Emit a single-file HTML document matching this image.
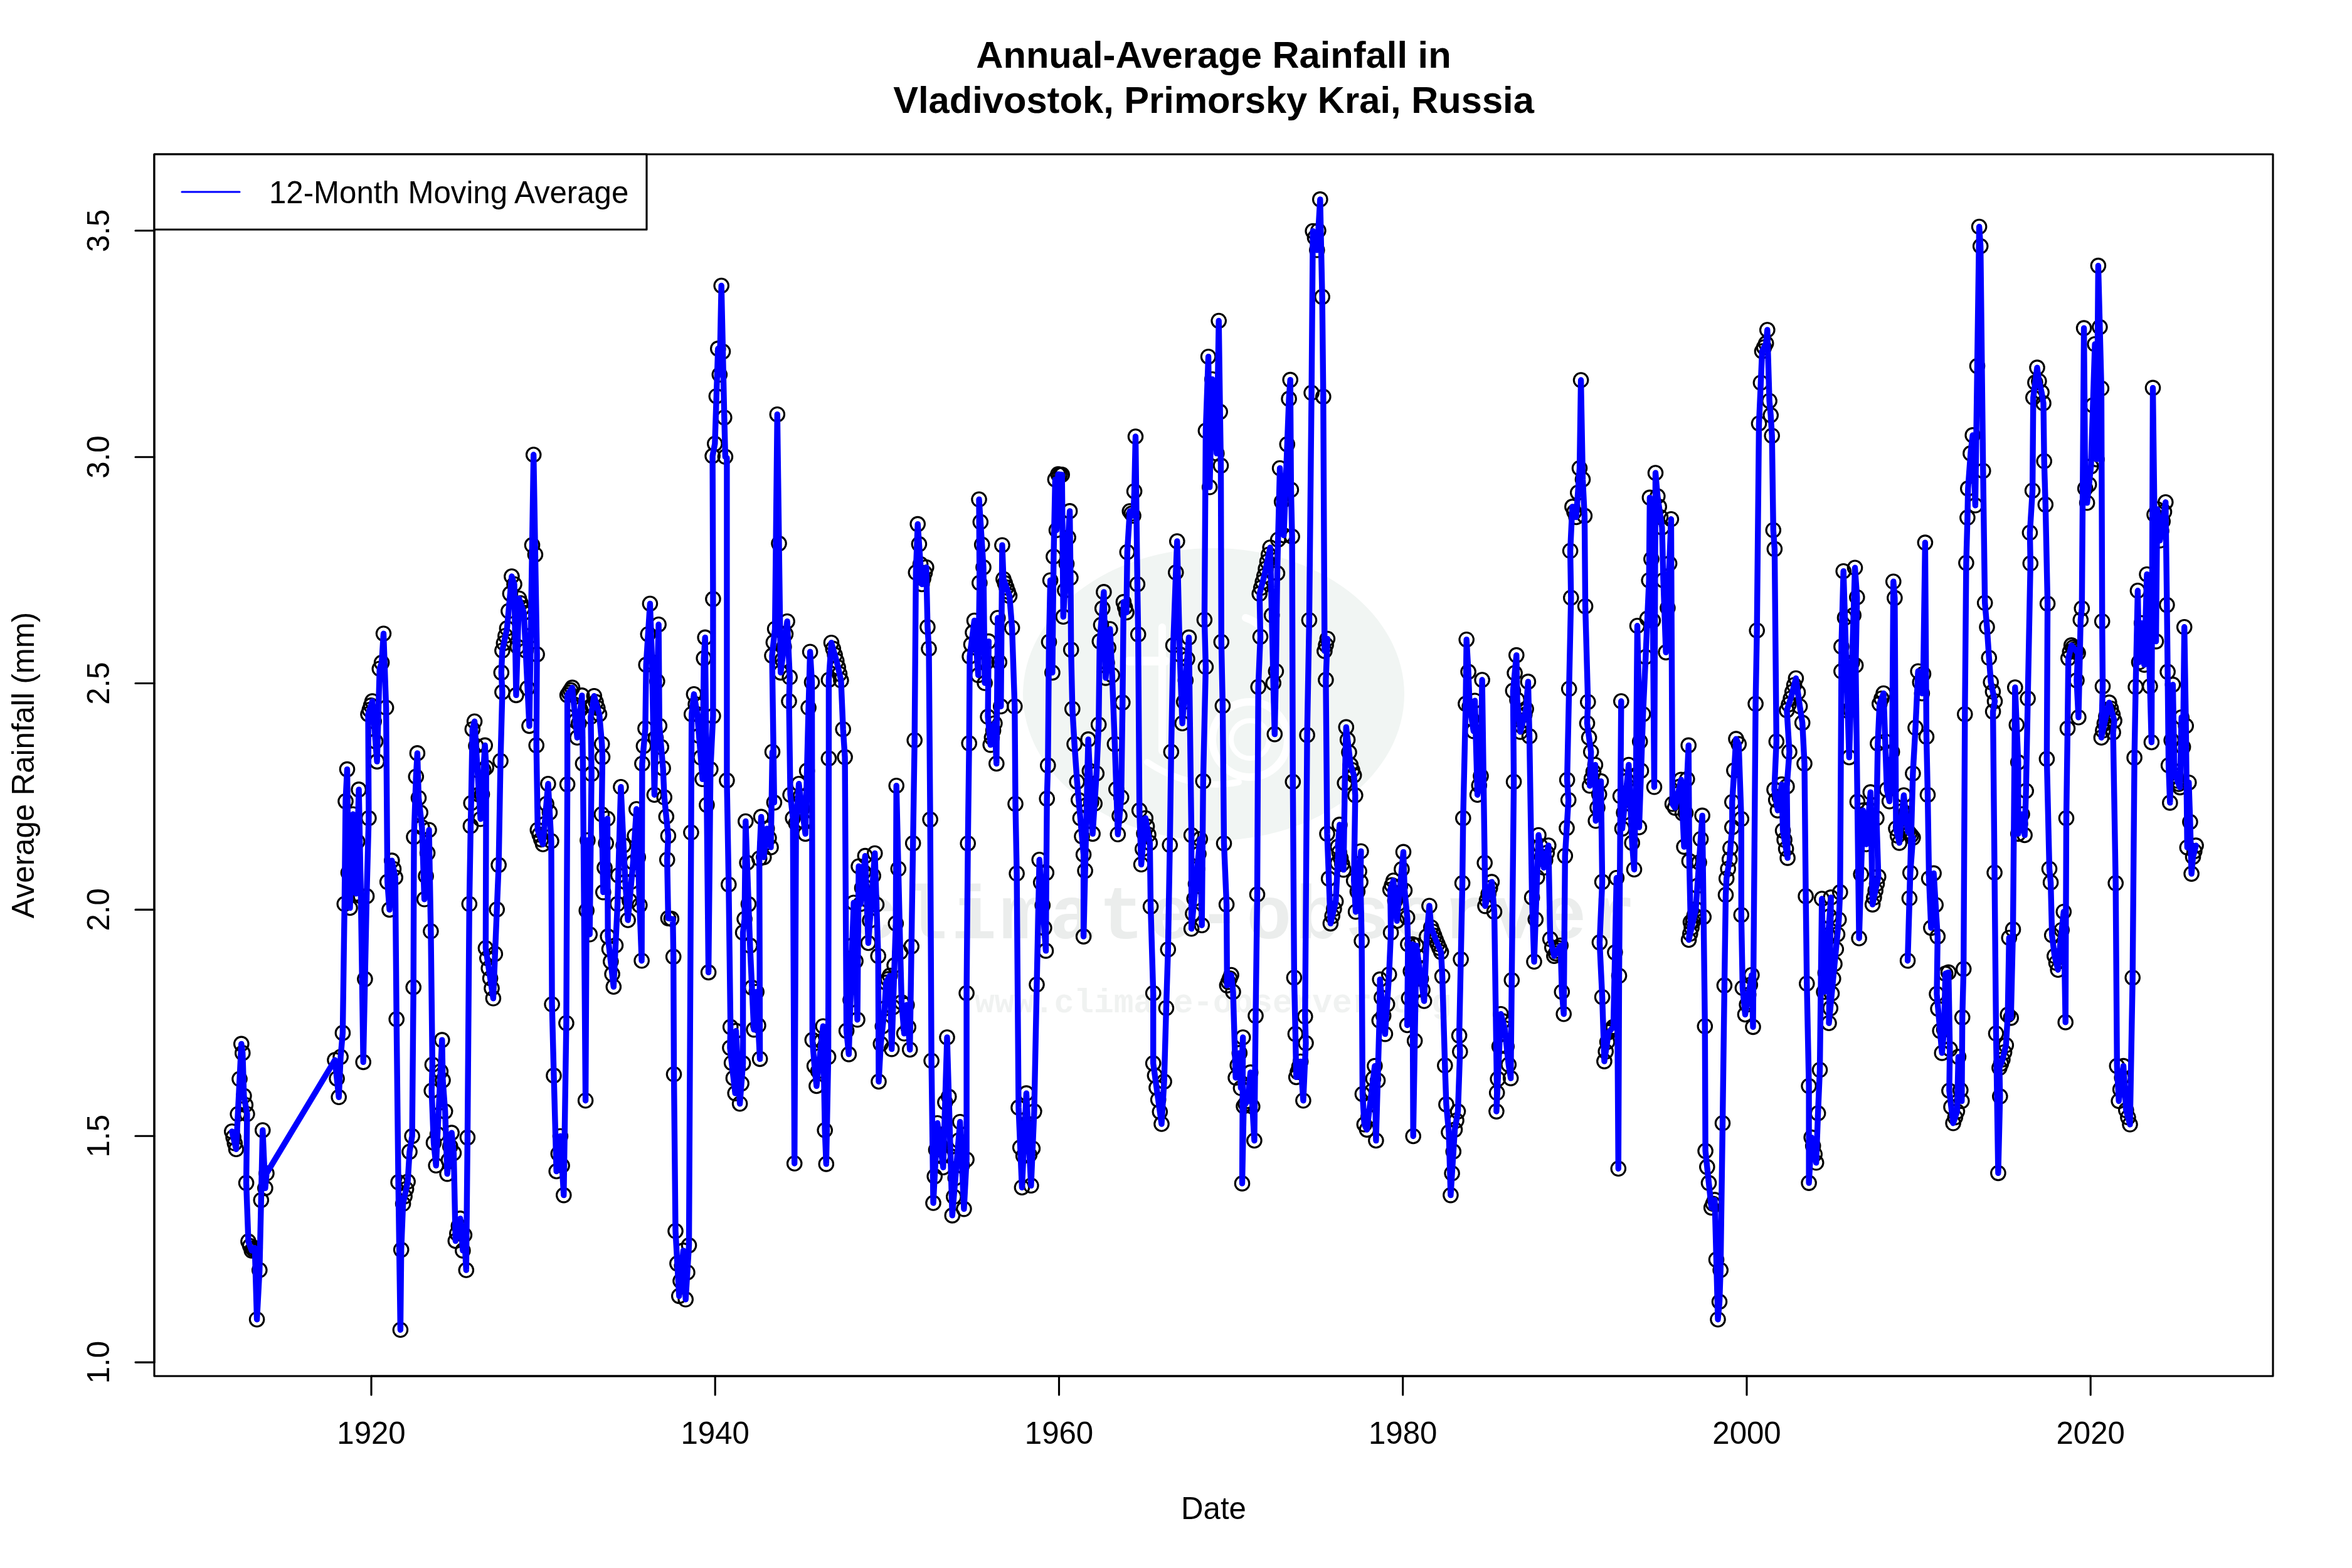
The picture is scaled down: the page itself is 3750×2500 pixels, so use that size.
<!DOCTYPE html>
<html><head><meta charset="utf-8"><title>Annual-Average Rainfall in Vladivostok</title>
<style>html,body{margin:0;padding:0;background:#fff}body{width:3750px;height:2500px;position:relative;overflow:hidden}</style></head>
<body>
<svg width="3750" height="2500" viewBox="0 0 3750 2500" style="position:absolute;left:0;top:0">
<g id="wm">
<ellipse cx="1935" cy="1107" rx="304" ry="233" fill="#f1f5f3"/>
<g fill="none" stroke="#ffffff" stroke-linecap="round">
<path d="M1800 1054H1858" stroke-width="14"/>
<path d="M1853 1000V1197" stroke-width="12"/>
<circle cx="1993" cy="1179" r="60" stroke-width="12"/>
<circle cx="1993" cy="1179" r="30" stroke-width="8"/>
<path d="M1986 985Q2030 1000 2029 1054" stroke-width="12"/>
<path d="M1829 1215Q1900 1262 1975 1247" stroke-width="10"/>
</g>
<text x="1360" y="1496" font-family="'Liberation Mono',monospace" font-weight="bold" font-size="120" fill="#ebedec" textLength="1248" lengthAdjust="spacing">climate-observer</text>
<text x="1554" y="1614" font-family="'Liberation Mono',monospace" font-weight="bold" font-size="52.8" fill="#f0f2f1" textLength="760" lengthAdjust="spacing">www.climate-observer.org</text>
</g>
<g fill="none" stroke="#000" stroke-width="3.125">
<circle cx="369.8" cy="1804.0" r="11.25"/>
<circle cx="372.1" cy="1813.4" r="11.25"/>
<circle cx="374.3" cy="1822.8" r="11.25"/>
<circle cx="376.5" cy="1832.2" r="11.25"/>
<circle cx="379.2" cy="1776.3" r="11.25"/>
<circle cx="382.0" cy="1720.3" r="11.25"/>
<circle cx="384.8" cy="1664.4" r="11.25"/>
<circle cx="386.8" cy="1678.9" r="11.25"/>
<circle cx="388.9" cy="1747.3" r="11.25"/>
<circle cx="391.4" cy="1761.8" r="11.25"/>
<circle cx="393.9" cy="1776.3" r="11.25"/>
<circle cx="392.6" cy="1886.1" r="11.25"/>
<circle cx="396.0" cy="1979.4" r="11.25"/>
<circle cx="398.7" cy="1986.6" r="11.25"/>
<circle cx="401.3" cy="1993.9" r="11.25"/>
<circle cx="403.8" cy="1991.8" r="11.25"/>
<circle cx="406.3" cy="1989.7" r="11.25"/>
<circle cx="409.6" cy="2103.7" r="11.25"/>
<circle cx="413.8" cy="2025.0" r="11.25"/>
<circle cx="416.3" cy="1913.5" r="11.25"/>
<circle cx="418.8" cy="1802.0" r="11.25"/>
<circle cx="422.9" cy="1894.4" r="11.25"/>
<circle cx="425.0" cy="1870.8" r="11.25"/>
<circle cx="534.0" cy="1690.1" r="11.25"/>
<circle cx="537.1" cy="1719.7" r="11.25"/>
<circle cx="540.2" cy="1749.3" r="11.25"/>
<circle cx="543.1" cy="1685.1" r="11.25"/>
<circle cx="546.4" cy="1646.9" r="11.25"/>
<circle cx="549.3" cy="1441.3" r="11.25"/>
<circle cx="551.0" cy="1277.6" r="11.25"/>
<circle cx="553.5" cy="1226.6" r="11.25"/>
<circle cx="555.5" cy="1391.6" r="11.25"/>
<circle cx="558.0" cy="1447.5" r="11.25"/>
<circle cx="560.3" cy="1372.9" r="11.25"/>
<circle cx="562.6" cy="1298.3" r="11.25"/>
<circle cx="565.1" cy="1361.5" r="11.25"/>
<circle cx="567.6" cy="1424.7" r="11.25"/>
<circle cx="569.8" cy="1341.8" r="11.25"/>
<circle cx="572.1" cy="1258.9" r="11.25"/>
<circle cx="575.4" cy="1428.9" r="11.25"/>
<circle cx="579.2" cy="1693.4" r="11.25"/>
<circle cx="581.9" cy="1561.1" r="11.25"/>
<circle cx="584.6" cy="1428.9" r="11.25"/>
<circle cx="587.9" cy="1304.5" r="11.25"/>
<circle cx="587.0" cy="1138.7" r="11.25"/>
<circle cx="589.3" cy="1131.8" r="11.25"/>
<circle cx="591.5" cy="1124.9" r="11.25"/>
<circle cx="593.7" cy="1118.0" r="11.25"/>
<circle cx="596.2" cy="1150.0" r="11.25"/>
<circle cx="598.7" cy="1182.1" r="11.25"/>
<circle cx="601.1" cy="1214.1" r="11.25"/>
<circle cx="605.3" cy="1066.2" r="11.25"/>
<circle cx="608.6" cy="1056.6" r="11.25"/>
<circle cx="611.5" cy="1010.2" r="11.25"/>
<circle cx="615.6" cy="1128.3" r="11.25"/>
<circle cx="617.7" cy="1406.1" r="11.25"/>
<circle cx="621.0" cy="1450.4" r="11.25"/>
<circle cx="624.8" cy="1372.1" r="11.25"/>
<circle cx="627.5" cy="1385.5" r="11.25"/>
<circle cx="630.2" cy="1399.0" r="11.25"/>
<circle cx="632.2" cy="1625.0" r="11.25"/>
<circle cx="635.1" cy="1884.9" r="11.25"/>
<circle cx="638.4" cy="2120.3" r="11.25"/>
<circle cx="639.7" cy="1992.6" r="11.25"/>
<circle cx="642.6" cy="1919.3" r="11.25"/>
<circle cx="645.1" cy="1907.5" r="11.25"/>
<circle cx="647.6" cy="1895.8" r="11.25"/>
<circle cx="650.1" cy="1884.0" r="11.25"/>
<circle cx="653.0" cy="1836.4" r="11.25"/>
<circle cx="657.1" cy="1811.5" r="11.25"/>
<circle cx="659.2" cy="1574.0" r="11.25"/>
<circle cx="660.0" cy="1334.4" r="11.25"/>
<circle cx="663.3" cy="1238.2" r="11.25"/>
<circle cx="665.4" cy="1200.9" r="11.25"/>
<circle cx="667.5" cy="1272.2" r="11.25"/>
<circle cx="670.2" cy="1295.6" r="11.25"/>
<circle cx="672.8" cy="1319.0" r="11.25"/>
<circle cx="676.6" cy="1433.8" r="11.25"/>
<circle cx="679.1" cy="1396.9" r="11.25"/>
<circle cx="681.6" cy="1360.1" r="11.25"/>
<circle cx="684.0" cy="1323.2" r="11.25"/>
<circle cx="686.9" cy="1484.8" r="11.25"/>
<circle cx="689.4" cy="1697.5" r="11.25"/>
<circle cx="688.2" cy="1739.0" r="11.25"/>
<circle cx="691.5" cy="1821.9" r="11.25"/>
<circle cx="695.2" cy="1858.3" r="11.25"/>
<circle cx="697.6" cy="1808.3" r="11.25"/>
<circle cx="700.0" cy="1758.2" r="11.25"/>
<circle cx="702.4" cy="1708.2" r="11.25"/>
<circle cx="704.8" cy="1658.1" r="11.25"/>
<circle cx="706.0" cy="1722.4" r="11.25"/>
<circle cx="709.7" cy="1772.1" r="11.25"/>
<circle cx="713.1" cy="1871.6" r="11.25"/>
<circle cx="715.4" cy="1849.8" r="11.25"/>
<circle cx="717.8" cy="1827.9" r="11.25"/>
<circle cx="720.1" cy="1806.1" r="11.25"/>
<circle cx="723.4" cy="1838.4" r="11.25"/>
<circle cx="726.3" cy="1978.5" r="11.25"/>
<circle cx="728.8" cy="1966.7" r="11.25"/>
<circle cx="731.3" cy="1954.8" r="11.25"/>
<circle cx="733.8" cy="1942.9" r="11.25"/>
<circle cx="737.9" cy="1993.9" r="11.25"/>
<circle cx="740.4" cy="1969.0" r="11.25"/>
<circle cx="743.3" cy="2025.0" r="11.25"/>
<circle cx="745.4" cy="1813.6" r="11.25"/>
<circle cx="748.3" cy="1441.3" r="11.25"/>
<circle cx="750.4" cy="1316.9" r="11.25"/>
<circle cx="751.2" cy="1280.5" r="11.25"/>
<circle cx="753.3" cy="1162.7" r="11.25"/>
<circle cx="756.6" cy="1150.3" r="11.25"/>
<circle cx="759.0" cy="1189.2" r="11.25"/>
<circle cx="761.3" cy="1228.0" r="11.25"/>
<circle cx="763.7" cy="1266.9" r="11.25"/>
<circle cx="766.1" cy="1305.8" r="11.25"/>
<circle cx="768.5" cy="1266.6" r="11.25"/>
<circle cx="770.8" cy="1227.5" r="11.25"/>
<circle cx="773.2" cy="1188.4" r="11.25"/>
<circle cx="775.2" cy="1223.7" r="11.25"/>
<circle cx="774.4" cy="1511.8" r="11.25"/>
<circle cx="776.8" cy="1527.8" r="11.25"/>
<circle cx="779.2" cy="1543.8" r="11.25"/>
<circle cx="781.6" cy="1559.8" r="11.25"/>
<circle cx="784.0" cy="1575.8" r="11.25"/>
<circle cx="786.4" cy="1591.8" r="11.25"/>
<circle cx="789.3" cy="1520.9" r="11.25"/>
<circle cx="792.2" cy="1450.0" r="11.25"/>
<circle cx="795.1" cy="1379.1" r="11.25"/>
<circle cx="798.0" cy="1213.3" r="11.25"/>
<circle cx="800.9" cy="1103.5" r="11.25"/>
<circle cx="799.3" cy="1072.4" r="11.25"/>
<circle cx="800.9" cy="1037.2" r="11.25"/>
<circle cx="803.4" cy="1025.4" r="11.25"/>
<circle cx="805.9" cy="1013.7" r="11.25"/>
<circle cx="808.4" cy="1001.9" r="11.25"/>
<circle cx="810.9" cy="974.3" r="11.25"/>
<circle cx="813.4" cy="946.6" r="11.25"/>
<circle cx="815.9" cy="919.0" r="11.25"/>
<circle cx="820.0" cy="931.5" r="11.25"/>
<circle cx="822.9" cy="1108.4" r="11.25"/>
<circle cx="825.2" cy="1031.3" r="11.25"/>
<circle cx="827.5" cy="954.2" r="11.25"/>
<circle cx="830.1" cy="961.8" r="11.25"/>
<circle cx="832.7" cy="969.4" r="11.25"/>
<circle cx="835.3" cy="977.0" r="11.25"/>
<circle cx="838.2" cy="1037.2" r="11.25"/>
<circle cx="841.1" cy="1097.3" r="11.25"/>
<circle cx="844.0" cy="1157.4" r="11.25"/>
<circle cx="846.3" cy="1013.2" r="11.25"/>
<circle cx="848.5" cy="869.1" r="11.25"/>
<circle cx="850.7" cy="725.0" r="11.25"/>
<circle cx="853.4" cy="884.2" r="11.25"/>
<circle cx="856.1" cy="1043.4" r="11.25"/>
<circle cx="855.2" cy="1188.4" r="11.25"/>
<circle cx="857.3" cy="1323.2" r="11.25"/>
<circle cx="860.1" cy="1330.8" r="11.25"/>
<circle cx="862.8" cy="1338.4" r="11.25"/>
<circle cx="865.6" cy="1346.0" r="11.25"/>
<circle cx="868.4" cy="1313.9" r="11.25"/>
<circle cx="871.1" cy="1281.8" r="11.25"/>
<circle cx="873.9" cy="1249.8" r="11.25"/>
<circle cx="876.4" cy="1295.4" r="11.25"/>
<circle cx="878.9" cy="1341.0" r="11.25"/>
<circle cx="880.1" cy="1601.3" r="11.25"/>
<circle cx="883.0" cy="1714.9" r="11.25"/>
<circle cx="887.2" cy="1867.5" r="11.25"/>
<circle cx="890.3" cy="1839.5" r="11.25"/>
<circle cx="893.4" cy="1811.5" r="11.25"/>
<circle cx="896.1" cy="1858.5" r="11.25"/>
<circle cx="898.8" cy="1905.6" r="11.25"/>
<circle cx="902.9" cy="1631.2" r="11.25"/>
<circle cx="904.6" cy="1250.6" r="11.25"/>
<circle cx="904.6" cy="1108.4" r="11.25"/>
<circle cx="907.2" cy="1104.4" r="11.25"/>
<circle cx="909.8" cy="1100.4" r="11.25"/>
<circle cx="912.4" cy="1096.4" r="11.25"/>
<circle cx="915.1" cy="1123.0" r="11.25"/>
<circle cx="917.7" cy="1149.5" r="11.25"/>
<circle cx="920.3" cy="1176.0" r="11.25"/>
<circle cx="922.8" cy="1153.6" r="11.25"/>
<circle cx="925.3" cy="1131.2" r="11.25"/>
<circle cx="927.8" cy="1108.9" r="11.25"/>
<circle cx="929.4" cy="1217.5" r="11.25"/>
<circle cx="933.6" cy="1754.7" r="11.25"/>
<circle cx="935.2" cy="1451.7" r="11.25"/>
<circle cx="936.9" cy="1339.7" r="11.25"/>
<circle cx="940.2" cy="1489.8" r="11.25"/>
<circle cx="943.1" cy="1234.0" r="11.25"/>
<circle cx="941.9" cy="1142.8" r="11.25"/>
<circle cx="944.6" cy="1126.3" r="11.25"/>
<circle cx="947.3" cy="1109.7" r="11.25"/>
<circle cx="950.0" cy="1119.4" r="11.25"/>
<circle cx="952.8" cy="1129.0" r="11.25"/>
<circle cx="955.5" cy="1138.7" r="11.25"/>
<circle cx="959.7" cy="1186.4" r="11.25"/>
<circle cx="960.5" cy="1207.1" r="11.25"/>
<circle cx="959.3" cy="1298.3" r="11.25"/>
<circle cx="961.8" cy="1422.6" r="11.25"/>
<circle cx="964.0" cy="1383.5" r="11.25"/>
<circle cx="966.2" cy="1344.4" r="11.25"/>
<circle cx="968.4" cy="1305.3" r="11.25"/>
<circle cx="969.2" cy="1493.1" r="11.25"/>
<circle cx="971.5" cy="1513.1" r="11.25"/>
<circle cx="973.8" cy="1533.1" r="11.25"/>
<circle cx="976.1" cy="1553.1" r="11.25"/>
<circle cx="978.3" cy="1573.2" r="11.25"/>
<circle cx="981.5" cy="1507.2" r="11.25"/>
<circle cx="984.6" cy="1441.3" r="11.25"/>
<circle cx="985.8" cy="1395.7" r="11.25"/>
<circle cx="989.9" cy="1254.8" r="11.25"/>
<circle cx="994.1" cy="1348.0" r="11.25"/>
<circle cx="997.0" cy="1406.1" r="11.25"/>
<circle cx="1001.1" cy="1467.0" r="11.25"/>
<circle cx="1003.9" cy="1436.3" r="11.25"/>
<circle cx="1006.7" cy="1405.6" r="11.25"/>
<circle cx="1009.4" cy="1375.0" r="11.25"/>
<circle cx="1012.1" cy="1332.5" r="11.25"/>
<circle cx="1014.8" cy="1290.0" r="11.25"/>
<circle cx="1017.3" cy="1366.7" r="11.25"/>
<circle cx="1019.8" cy="1443.4" r="11.25"/>
<circle cx="1023.1" cy="1531.7" r="11.25"/>
<circle cx="1023.9" cy="1217.5" r="11.25"/>
<circle cx="1026.4" cy="1189.5" r="11.25"/>
<circle cx="1028.9" cy="1161.5" r="11.25"/>
<circle cx="1030.2" cy="1059.9" r="11.25"/>
<circle cx="1033.3" cy="1011.2" r="11.25"/>
<circle cx="1036.4" cy="962.5" r="11.25"/>
<circle cx="1039.7" cy="1055.8" r="11.25"/>
<circle cx="1043.4" cy="1267.2" r="11.25"/>
<circle cx="1045.6" cy="1176.7" r="11.25"/>
<circle cx="1047.8" cy="1086.2" r="11.25"/>
<circle cx="1050.1" cy="995.7" r="11.25"/>
<circle cx="1051.3" cy="1157.4" r="11.25"/>
<circle cx="1054.2" cy="1191.1" r="11.25"/>
<circle cx="1057.1" cy="1224.9" r="11.25"/>
<circle cx="1059.2" cy="1271.3" r="11.25"/>
<circle cx="1062.3" cy="1302.0" r="11.25"/>
<circle cx="1065.4" cy="1332.7" r="11.25"/>
<circle cx="1063.7" cy="1370.8" r="11.25"/>
<circle cx="1065.4" cy="1464.1" r="11.25"/>
<circle cx="1070.4" cy="1464.9" r="11.25"/>
<circle cx="1073.7" cy="1525.4" r="11.25"/>
<circle cx="1074.5" cy="1712.8" r="11.25"/>
<circle cx="1077.0" cy="1962.8" r="11.25"/>
<circle cx="1079.9" cy="2014.6" r="11.25"/>
<circle cx="1082.8" cy="2066.4" r="11.25"/>
<circle cx="1085.0" cy="2042.2" r="11.25"/>
<circle cx="1087.2" cy="2018.1" r="11.25"/>
<circle cx="1089.4" cy="1993.9" r="11.25"/>
<circle cx="1093.2" cy="2071.8" r="11.25"/>
<circle cx="1095.9" cy="2028.7" r="11.25"/>
<circle cx="1098.5" cy="1985.6" r="11.25"/>
<circle cx="1101.9" cy="1327.3" r="11.25"/>
<circle cx="1102.7" cy="1138.7" r="11.25"/>
<circle cx="1106.4" cy="1106.8" r="11.25"/>
<circle cx="1109.1" cy="1122.7" r="11.25"/>
<circle cx="1111.8" cy="1138.7" r="11.25"/>
<circle cx="1114.6" cy="1173.2" r="11.25"/>
<circle cx="1117.3" cy="1207.8" r="11.25"/>
<circle cx="1120.1" cy="1242.3" r="11.25"/>
<circle cx="1122.2" cy="1049.6" r="11.25"/>
<circle cx="1124.2" cy="1016.4" r="11.25"/>
<circle cx="1126.9" cy="1283.4" r="11.25"/>
<circle cx="1129.6" cy="1550.4" r="11.25"/>
<circle cx="1132.8" cy="1226.6" r="11.25"/>
<circle cx="1136.9" cy="1141.6" r="11.25"/>
<circle cx="1136.9" cy="955.1" r="11.25"/>
<circle cx="1136.1" cy="727.0" r="11.25"/>
<circle cx="1139.8" cy="707.6" r="11.25"/>
<circle cx="1142.3" cy="631.7" r="11.25"/>
<circle cx="1144.8" cy="555.9" r="11.25"/>
<circle cx="1147.3" cy="597.3" r="11.25"/>
<circle cx="1150.2" cy="455.5" r="11.25"/>
<circle cx="1152.5" cy="560.6" r="11.25"/>
<circle cx="1154.8" cy="665.7" r="11.25"/>
<circle cx="1156.4" cy="728.3" r="11.25"/>
<circle cx="1158.9" cy="1244.4" r="11.25"/>
<circle cx="1161.8" cy="1410.2" r="11.25"/>
<circle cx="1164.7" cy="1637.4" r="11.25"/>
<circle cx="1163.9" cy="1670.6" r="11.25"/>
<circle cx="1166.6" cy="1694.7" r="11.25"/>
<circle cx="1169.4" cy="1718.9" r="11.25"/>
<circle cx="1172.2" cy="1743.1" r="11.25"/>
<circle cx="1173.4" cy="1643.6" r="11.25"/>
<circle cx="1176.5" cy="1701.7" r="11.25"/>
<circle cx="1179.6" cy="1759.7" r="11.25"/>
<circle cx="1182.1" cy="1727.6" r="11.25"/>
<circle cx="1184.6" cy="1695.4" r="11.25"/>
<circle cx="1184.6" cy="1486.9" r="11.25"/>
<circle cx="1187.1" cy="1465.3" r="11.25"/>
<circle cx="1188.8" cy="1309.5" r="11.25"/>
<circle cx="1191.1" cy="1375.5" r="11.25"/>
<circle cx="1193.5" cy="1441.6" r="11.25"/>
<circle cx="1195.8" cy="1507.6" r="11.25"/>
<circle cx="1198.9" cy="1574.6" r="11.25"/>
<circle cx="1202.0" cy="1641.6" r="11.25"/>
<circle cx="1206.2" cy="1581.5" r="11.25"/>
<circle cx="1208.9" cy="1634.9" r="11.25"/>
<circle cx="1211.6" cy="1688.4" r="11.25"/>
<circle cx="1210.7" cy="1368.8" r="11.25"/>
<circle cx="1213.6" cy="1302.4" r="11.25"/>
<circle cx="1217.8" cy="1366.7" r="11.25"/>
<circle cx="1220.3" cy="1343.9" r="11.25"/>
<circle cx="1222.7" cy="1321.1" r="11.25"/>
<circle cx="1225.9" cy="1336.0" r="11.25"/>
<circle cx="1229.0" cy="1350.9" r="11.25"/>
<circle cx="1231.5" cy="1198.8" r="11.25"/>
<circle cx="1234.4" cy="1279.6" r="11.25"/>
<circle cx="1231.0" cy="1045.4" r="11.25"/>
<circle cx="1233.3" cy="1024.1" r="11.25"/>
<circle cx="1235.6" cy="1002.7" r="11.25"/>
<circle cx="1239.3" cy="660.7" r="11.25"/>
<circle cx="1242.0" cy="866.6" r="11.25"/>
<circle cx="1244.7" cy="1072.4" r="11.25"/>
<circle cx="1247.3" cy="1052.0" r="11.25"/>
<circle cx="1249.9" cy="1031.6" r="11.25"/>
<circle cx="1252.5" cy="1011.1" r="11.25"/>
<circle cx="1255.1" cy="990.7" r="11.25"/>
<circle cx="1259.2" cy="1079.8" r="11.25"/>
<circle cx="1258.0" cy="1118.0" r="11.25"/>
<circle cx="1260.1" cy="1267.2" r="11.25"/>
<circle cx="1264.2" cy="1304.5" r="11.25"/>
<circle cx="1266.7" cy="1855.0" r="11.25"/>
<circle cx="1269.2" cy="1312.8" r="11.25"/>
<circle cx="1271.5" cy="1281.3" r="11.25"/>
<circle cx="1273.7" cy="1249.8" r="11.25"/>
<circle cx="1276.3" cy="1269.7" r="11.25"/>
<circle cx="1278.9" cy="1289.6" r="11.25"/>
<circle cx="1281.5" cy="1309.5" r="11.25"/>
<circle cx="1284.1" cy="1329.4" r="11.25"/>
<circle cx="1286.6" cy="1228.9" r="11.25"/>
<circle cx="1289.1" cy="1128.3" r="11.25"/>
<circle cx="1291.6" cy="1039.2" r="11.25"/>
<circle cx="1294.5" cy="1087.7" r="11.25"/>
<circle cx="1295.3" cy="1658.1" r="11.25"/>
<circle cx="1298.6" cy="1699.6" r="11.25"/>
<circle cx="1301.9" cy="1731.5" r="11.25"/>
<circle cx="1304.5" cy="1707.7" r="11.25"/>
<circle cx="1307.1" cy="1683.8" r="11.25"/>
<circle cx="1309.7" cy="1660.0" r="11.25"/>
<circle cx="1312.3" cy="1636.2" r="11.25"/>
<circle cx="1315.2" cy="1802.0" r="11.25"/>
<circle cx="1317.3" cy="1855.9" r="11.25"/>
<circle cx="1320.6" cy="1685.1" r="11.25"/>
<circle cx="1321.4" cy="1209.2" r="11.25"/>
<circle cx="1321.4" cy="1084.0" r="11.25"/>
<circle cx="1325.5" cy="1024.7" r="11.25"/>
<circle cx="1328.3" cy="1034.4" r="11.25"/>
<circle cx="1331.1" cy="1044.1" r="11.25"/>
<circle cx="1333.8" cy="1053.7" r="11.25"/>
<circle cx="1336.2" cy="1064.1" r="11.25"/>
<circle cx="1338.5" cy="1074.5" r="11.25"/>
<circle cx="1340.9" cy="1084.8" r="11.25"/>
<circle cx="1344.2" cy="1162.7" r="11.25"/>
<circle cx="1347.1" cy="1207.1" r="11.25"/>
<circle cx="1349.6" cy="1643.6" r="11.25"/>
<circle cx="1353.3" cy="1680.9" r="11.25"/>
<circle cx="1356.0" cy="1594.3" r="11.25"/>
<circle cx="1358.7" cy="1507.6" r="11.25"/>
<circle cx="1361.2" cy="1439.2" r="11.25"/>
<circle cx="1364.1" cy="1532.5" r="11.25"/>
<circle cx="1367.0" cy="1625.8" r="11.25"/>
<circle cx="1369.1" cy="1381.2" r="11.25"/>
<circle cx="1372.0" cy="1441.3" r="11.25"/>
<circle cx="1374.5" cy="1415.7" r="11.25"/>
<circle cx="1376.9" cy="1390.2" r="11.25"/>
<circle cx="1379.4" cy="1364.6" r="11.25"/>
<circle cx="1381.9" cy="1434.0" r="11.25"/>
<circle cx="1384.4" cy="1503.5" r="11.25"/>
<circle cx="1387.0" cy="1467.7" r="11.25"/>
<circle cx="1389.6" cy="1432.0" r="11.25"/>
<circle cx="1392.2" cy="1396.2" r="11.25"/>
<circle cx="1394.8" cy="1360.5" r="11.25"/>
<circle cx="1397.5" cy="1442.3" r="11.25"/>
<circle cx="1400.2" cy="1524.2" r="11.25"/>
<circle cx="1401.0" cy="1724.5" r="11.25"/>
<circle cx="1404.3" cy="1664.4" r="11.25"/>
<circle cx="1407.3" cy="1636.2" r="11.25"/>
<circle cx="1410.4" cy="1608.0" r="11.25"/>
<circle cx="1412.7" cy="1566.6" r="11.25"/>
<circle cx="1415.7" cy="1561.1" r="11.25"/>
<circle cx="1418.7" cy="1555.6" r="11.25"/>
<circle cx="1421.7" cy="1672.6" r="11.25"/>
<circle cx="1423.9" cy="1605.9" r="11.25"/>
<circle cx="1426.1" cy="1539.1" r="11.25"/>
<circle cx="1428.3" cy="1472.4" r="11.25"/>
<circle cx="1429.2" cy="1252.7" r="11.25"/>
<circle cx="1432.3" cy="1385.3" r="11.25"/>
<circle cx="1435.4" cy="1518.0" r="11.25"/>
<circle cx="1437.5" cy="1598.0" r="11.25"/>
<circle cx="1441.6" cy="1647.8" r="11.25"/>
<circle cx="1445.8" cy="1602.2" r="11.25"/>
<circle cx="1448.2" cy="1637.8" r="11.25"/>
<circle cx="1450.7" cy="1673.5" r="11.25"/>
<circle cx="1453.2" cy="1509.0" r="11.25"/>
<circle cx="1455.7" cy="1344.6" r="11.25"/>
<circle cx="1458.2" cy="1180.2" r="11.25"/>
<circle cx="1460.3" cy="912.8" r="11.25"/>
<circle cx="1463.2" cy="835.6" r="11.25"/>
<circle cx="1465.4" cy="867.6" r="11.25"/>
<circle cx="1467.6" cy="899.5" r="11.25"/>
<circle cx="1469.8" cy="931.5" r="11.25"/>
<circle cx="1472.1" cy="922.5" r="11.25"/>
<circle cx="1474.5" cy="913.5" r="11.25"/>
<circle cx="1476.8" cy="904.5" r="11.25"/>
<circle cx="1478.9" cy="999.8" r="11.25"/>
<circle cx="1481.0" cy="1034.2" r="11.25"/>
<circle cx="1483.1" cy="1306.6" r="11.25"/>
<circle cx="1485.1" cy="1691.3" r="11.25"/>
<circle cx="1488.0" cy="1918.0" r="11.25"/>
<circle cx="1490.2" cy="1875.6" r="11.25"/>
<circle cx="1492.5" cy="1833.2" r="11.25"/>
<circle cx="1494.7" cy="1790.8" r="11.25"/>
<circle cx="1496.9" cy="1808.4" r="11.25"/>
<circle cx="1499.2" cy="1826.0" r="11.25"/>
<circle cx="1501.5" cy="1843.6" r="11.25"/>
<circle cx="1503.8" cy="1861.2" r="11.25"/>
<circle cx="1506.9" cy="1757.6" r="11.25"/>
<circle cx="1510.0" cy="1654.0" r="11.25"/>
<circle cx="1512.8" cy="1748.6" r="11.25"/>
<circle cx="1515.5" cy="1843.3" r="11.25"/>
<circle cx="1518.3" cy="1937.9" r="11.25"/>
<circle cx="1520.8" cy="1908.1" r="11.25"/>
<circle cx="1523.3" cy="1878.2" r="11.25"/>
<circle cx="1525.8" cy="1848.4" r="11.25"/>
<circle cx="1528.2" cy="1818.5" r="11.25"/>
<circle cx="1530.7" cy="1788.7" r="11.25"/>
<circle cx="1533.8" cy="1858.1" r="11.25"/>
<circle cx="1536.9" cy="1927.6" r="11.25"/>
<circle cx="1541.1" cy="1848.8" r="11.25"/>
<circle cx="1541.1" cy="1583.5" r="11.25"/>
<circle cx="1543.2" cy="1344.7" r="11.25"/>
<circle cx="1545.2" cy="1185.1" r="11.25"/>
<circle cx="1546.1" cy="1046.7" r="11.25"/>
<circle cx="1548.5" cy="1027.6" r="11.25"/>
<circle cx="1551.0" cy="1008.5" r="11.25"/>
<circle cx="1553.5" cy="989.5" r="11.25"/>
<circle cx="1556.6" cy="1033.0" r="11.25"/>
<circle cx="1559.7" cy="1076.5" r="11.25"/>
<circle cx="1561.8" cy="929.4" r="11.25"/>
<circle cx="1561.0" cy="796.3" r="11.25"/>
<circle cx="1563.3" cy="832.3" r="11.25"/>
<circle cx="1565.7" cy="868.4" r="11.25"/>
<circle cx="1568.0" cy="904.5" r="11.25"/>
<circle cx="1570.1" cy="1089.0" r="11.25"/>
<circle cx="1573.2" cy="1055.8" r="11.25"/>
<circle cx="1576.3" cy="1022.6" r="11.25"/>
<circle cx="1575.1" cy="1142.8" r="11.25"/>
<circle cx="1579.2" cy="1187.6" r="11.25"/>
<circle cx="1581.4" cy="1176.1" r="11.25"/>
<circle cx="1583.6" cy="1164.7" r="11.25"/>
<circle cx="1585.9" cy="1153.2" r="11.25"/>
<circle cx="1588.8" cy="1217.5" r="11.25"/>
<circle cx="1590.8" cy="985.3" r="11.25"/>
<circle cx="1593.3" cy="1055.8" r="11.25"/>
<circle cx="1595.8" cy="1126.3" r="11.25"/>
<circle cx="1597.9" cy="869.2" r="11.25"/>
<circle cx="1599.9" cy="923.2" r="11.25"/>
<circle cx="1602.3" cy="929.9" r="11.25"/>
<circle cx="1604.7" cy="936.6" r="11.25"/>
<circle cx="1607.1" cy="943.4" r="11.25"/>
<circle cx="1609.5" cy="950.1" r="11.25"/>
<circle cx="1613.6" cy="1001.1" r="11.25"/>
<circle cx="1617.8" cy="1126.3" r="11.25"/>
<circle cx="1619.0" cy="1281.7" r="11.25"/>
<circle cx="1621.1" cy="1392.8" r="11.25"/>
<circle cx="1624.0" cy="1765.9" r="11.25"/>
<circle cx="1626.7" cy="1829.5" r="11.25"/>
<circle cx="1629.4" cy="1893.2" r="11.25"/>
<circle cx="1631.7" cy="1843.1" r="11.25"/>
<circle cx="1634.1" cy="1793.1" r="11.25"/>
<circle cx="1636.4" cy="1743.1" r="11.25"/>
<circle cx="1638.9" cy="1792.2" r="11.25"/>
<circle cx="1641.4" cy="1841.2" r="11.25"/>
<circle cx="1643.9" cy="1890.3" r="11.25"/>
<circle cx="1646.4" cy="1831.2" r="11.25"/>
<circle cx="1648.9" cy="1772.1" r="11.25"/>
<circle cx="1653.0" cy="1569.8" r="11.25"/>
<circle cx="1657.2" cy="1370.8" r="11.25"/>
<circle cx="1659.7" cy="1407.1" r="11.25"/>
<circle cx="1662.3" cy="1443.4" r="11.25"/>
<circle cx="1664.9" cy="1479.6" r="11.25"/>
<circle cx="1667.5" cy="1515.9" r="11.25"/>
<circle cx="1668.3" cy="1391.6" r="11.25"/>
<circle cx="1669.2" cy="1273.4" r="11.25"/>
<circle cx="1670.8" cy="1220.4" r="11.25"/>
<circle cx="1672.5" cy="1023.5" r="11.25"/>
<circle cx="1674.6" cy="925.2" r="11.25"/>
<circle cx="1677.9" cy="1072.4" r="11.25"/>
<circle cx="1679.9" cy="887.5" r="11.25"/>
<circle cx="1682.4" cy="764.4" r="11.25"/>
<circle cx="1684.5" cy="845.2" r="11.25"/>
<circle cx="1687.0" cy="756.1" r="11.25"/>
<circle cx="1690.1" cy="756.5" r="11.25"/>
<circle cx="1693.2" cy="756.9" r="11.25"/>
<circle cx="1695.3" cy="983.3" r="11.25"/>
<circle cx="1697.9" cy="941.2" r="11.25"/>
<circle cx="1700.5" cy="899.1" r="11.25"/>
<circle cx="1703.1" cy="857.0" r="11.25"/>
<circle cx="1705.6" cy="814.9" r="11.25"/>
<circle cx="1706.9" cy="921.1" r="11.25"/>
<circle cx="1707.7" cy="1035.9" r="11.25"/>
<circle cx="1709.8" cy="1130.4" r="11.25"/>
<circle cx="1713.1" cy="1186.4" r="11.25"/>
<circle cx="1717.3" cy="1246.5" r="11.25"/>
<circle cx="1719.8" cy="1275.5" r="11.25"/>
<circle cx="1722.4" cy="1304.5" r="11.25"/>
<circle cx="1725.0" cy="1333.5" r="11.25"/>
<circle cx="1727.6" cy="1362.5" r="11.25"/>
<circle cx="1727.6" cy="1493.1" r="11.25"/>
<circle cx="1730.1" cy="1388.4" r="11.25"/>
<circle cx="1732.6" cy="1283.6" r="11.25"/>
<circle cx="1735.1" cy="1178.9" r="11.25"/>
<circle cx="1737.4" cy="1229.1" r="11.25"/>
<circle cx="1739.8" cy="1279.2" r="11.25"/>
<circle cx="1742.1" cy="1329.4" r="11.25"/>
<circle cx="1745.2" cy="1281.3" r="11.25"/>
<circle cx="1748.3" cy="1233.2" r="11.25"/>
<circle cx="1751.7" cy="1155.3" r="11.25"/>
<circle cx="1753.3" cy="1022.6" r="11.25"/>
<circle cx="1755.5" cy="996.4" r="11.25"/>
<circle cx="1757.7" cy="970.1" r="11.25"/>
<circle cx="1759.9" cy="943.9" r="11.25"/>
<circle cx="1762.9" cy="1080.9" r="11.25"/>
<circle cx="1765.0" cy="1056.8" r="11.25"/>
<circle cx="1767.2" cy="1032.8" r="11.25"/>
<circle cx="1769.8" cy="1003.0" r="11.25"/>
<circle cx="1773.2" cy="1076.5" r="11.25"/>
<circle cx="1777.4" cy="1186.4" r="11.25"/>
<circle cx="1779.8" cy="1258.3" r="11.25"/>
<circle cx="1782.3" cy="1330.2" r="11.25"/>
<circle cx="1785.0" cy="1300.8" r="11.25"/>
<circle cx="1787.7" cy="1271.3" r="11.25"/>
<circle cx="1789.8" cy="1120.1" r="11.25"/>
<circle cx="1791.4" cy="959.9" r="11.25"/>
<circle cx="1793.7" cy="968.2" r="11.25"/>
<circle cx="1796.0" cy="976.5" r="11.25"/>
<circle cx="1797.3" cy="880.3" r="11.25"/>
<circle cx="1801.3" cy="815.0" r="11.25"/>
<circle cx="1804.1" cy="818.7" r="11.25"/>
<circle cx="1807.0" cy="822.3" r="11.25"/>
<circle cx="1808.6" cy="783.2" r="11.25"/>
<circle cx="1810.5" cy="696.0" r="11.25"/>
<circle cx="1813.4" cy="931.5" r="11.25"/>
<circle cx="1814.7" cy="1011.5" r="11.25"/>
<circle cx="1816.7" cy="1292.1" r="11.25"/>
<circle cx="1819.6" cy="1378.3" r="11.25"/>
<circle cx="1821.8" cy="1353.7" r="11.25"/>
<circle cx="1824.1" cy="1329.1" r="11.25"/>
<circle cx="1826.3" cy="1304.5" r="11.25"/>
<circle cx="1828.6" cy="1317.6" r="11.25"/>
<circle cx="1831.0" cy="1330.8" r="11.25"/>
<circle cx="1833.3" cy="1343.9" r="11.25"/>
<circle cx="1834.6" cy="1445.4" r="11.25"/>
<circle cx="1838.7" cy="1583.5" r="11.25"/>
<circle cx="1838.7" cy="1695.4" r="11.25"/>
<circle cx="1841.4" cy="1714.8" r="11.25"/>
<circle cx="1844.0" cy="1734.1" r="11.25"/>
<circle cx="1846.7" cy="1753.4" r="11.25"/>
<circle cx="1849.3" cy="1772.7" r="11.25"/>
<circle cx="1852.0" cy="1792.0" r="11.25"/>
<circle cx="1856.1" cy="1724.5" r="11.25"/>
<circle cx="1859.4" cy="1607.2" r="11.25"/>
<circle cx="1862.3" cy="1513.8" r="11.25"/>
<circle cx="1865.2" cy="1347.2" r="11.25"/>
<circle cx="1867.3" cy="1198.8" r="11.25"/>
<circle cx="1870.6" cy="1028.9" r="11.25"/>
<circle cx="1874.8" cy="912.8" r="11.25"/>
<circle cx="1876.8" cy="863.0" r="11.25"/>
<circle cx="1881.0" cy="1043.4" r="11.25"/>
<circle cx="1885.1" cy="1153.2" r="11.25"/>
<circle cx="1887.7" cy="1119.0" r="11.25"/>
<circle cx="1890.3" cy="1084.8" r="11.25"/>
<circle cx="1892.9" cy="1050.6" r="11.25"/>
<circle cx="1895.5" cy="1016.4" r="11.25"/>
<circle cx="1899.6" cy="1331.5" r="11.25"/>
<circle cx="1899.6" cy="1480.7" r="11.25"/>
<circle cx="1901.9" cy="1456.8" r="11.25"/>
<circle cx="1904.2" cy="1433.0" r="11.25"/>
<circle cx="1906.5" cy="1409.2" r="11.25"/>
<circle cx="1908.8" cy="1385.3" r="11.25"/>
<circle cx="1911.0" cy="1361.5" r="11.25"/>
<circle cx="1913.3" cy="1337.7" r="11.25"/>
<circle cx="1916.2" cy="1475.3" r="11.25"/>
<circle cx="1918.3" cy="1245.6" r="11.25"/>
<circle cx="1922.4" cy="1063.3" r="11.25"/>
<circle cx="1920.4" cy="988.2" r="11.25"/>
<circle cx="1922.4" cy="686.8" r="11.25"/>
<circle cx="1926.6" cy="568.7" r="11.25"/>
<circle cx="1928.7" cy="776.8" r="11.25"/>
<circle cx="1932.8" cy="604.8" r="11.25"/>
<circle cx="1935.7" cy="642.1" r="11.25"/>
<circle cx="1939.8" cy="722.9" r="11.25"/>
<circle cx="1943.2" cy="511.5" r="11.25"/>
<circle cx="1945.2" cy="656.6" r="11.25"/>
<circle cx="1946.5" cy="742.4" r="11.25"/>
<circle cx="1947.3" cy="1023.5" r="11.25"/>
<circle cx="1949.4" cy="1125.4" r="11.25"/>
<circle cx="1951.5" cy="1344.7" r="11.25"/>
<circle cx="1955.6" cy="1442.1" r="11.25"/>
<circle cx="1956.4" cy="1571.1" r="11.25"/>
<circle cx="1958.6" cy="1565.6" r="11.25"/>
<circle cx="1960.8" cy="1560.0" r="11.25"/>
<circle cx="1963.1" cy="1554.5" r="11.25"/>
<circle cx="1966.0" cy="1581.5" r="11.25"/>
<circle cx="1970.1" cy="1718.2" r="11.25"/>
<circle cx="1973.2" cy="1698.5" r="11.25"/>
<circle cx="1976.3" cy="1678.9" r="11.25"/>
<circle cx="1978.4" cy="1734.8" r="11.25"/>
<circle cx="1981.7" cy="1654.0" r="11.25"/>
<circle cx="1980.5" cy="1886.9" r="11.25"/>
<circle cx="1983.0" cy="1763.8" r="11.25"/>
<circle cx="1985.9" cy="1759.7" r="11.25"/>
<circle cx="1988.8" cy="1755.5" r="11.25"/>
<circle cx="1991.2" cy="1732.7" r="11.25"/>
<circle cx="1993.7" cy="1709.9" r="11.25"/>
<circle cx="1996.8" cy="1764.2" r="11.25"/>
<circle cx="1999.9" cy="1818.5" r="11.25"/>
<circle cx="2002.0" cy="1619.6" r="11.25"/>
<circle cx="2004.5" cy="1426.0" r="11.25"/>
<circle cx="2006.2" cy="1095.2" r="11.25"/>
<circle cx="2009.5" cy="1015.2" r="11.25"/>
<circle cx="2008.2" cy="946.8" r="11.25"/>
<circle cx="2010.7" cy="937.3" r="11.25"/>
<circle cx="2013.2" cy="927.7" r="11.25"/>
<circle cx="2015.7" cy="918.2" r="11.25"/>
<circle cx="2018.1" cy="906.9" r="11.25"/>
<circle cx="2020.5" cy="895.6" r="11.25"/>
<circle cx="2022.8" cy="884.3" r="11.25"/>
<circle cx="2025.2" cy="873.0" r="11.25"/>
<circle cx="2027.7" cy="981.0" r="11.25"/>
<circle cx="2030.2" cy="1089.0" r="11.25"/>
<circle cx="2032.3" cy="1170.6" r="11.25"/>
<circle cx="2034.4" cy="1070.3" r="11.25"/>
<circle cx="2036.4" cy="914.0" r="11.25"/>
<circle cx="2037.7" cy="860.5" r="11.25"/>
<circle cx="2040.6" cy="746.5" r="11.25"/>
<circle cx="2043.7" cy="800.0" r="11.25"/>
<circle cx="2046.8" cy="853.5" r="11.25"/>
<circle cx="2049.6" cy="780.9" r="11.25"/>
<circle cx="2052.3" cy="708.4" r="11.25"/>
<circle cx="2055.1" cy="635.9" r="11.25"/>
<circle cx="2057.2" cy="605.6" r="11.25"/>
<circle cx="2058.4" cy="780.9" r="11.25"/>
<circle cx="2060.1" cy="855.5" r="11.25"/>
<circle cx="2061.3" cy="1246.5" r="11.25"/>
<circle cx="2063.4" cy="1558.7" r="11.25"/>
<circle cx="2065.4" cy="1648.6" r="11.25"/>
<circle cx="2066.7" cy="1717.4" r="11.25"/>
<circle cx="2069.0" cy="1709.1" r="11.25"/>
<circle cx="2071.4" cy="1700.8" r="11.25"/>
<circle cx="2073.7" cy="1692.5" r="11.25"/>
<circle cx="2077.9" cy="1754.7" r="11.25"/>
<circle cx="2082.0" cy="1663.1" r="11.25"/>
<circle cx="2080.8" cy="1620.8" r="11.25"/>
<circle cx="2084.1" cy="1171.9" r="11.25"/>
<circle cx="2087.4" cy="988.7" r="11.25"/>
<circle cx="2091.1" cy="626.3" r="11.25"/>
<circle cx="2093.2" cy="368.5" r="11.25"/>
<circle cx="2096.5" cy="378.9" r="11.25"/>
<circle cx="2099.8" cy="398.8" r="11.25"/>
<circle cx="2101.9" cy="367.7" r="11.25"/>
<circle cx="2104.8" cy="317.9" r="11.25"/>
<circle cx="2108.1" cy="473.4" r="11.25"/>
<circle cx="2109.8" cy="632.5" r="11.25"/>
<circle cx="2111.9" cy="1038.0" r="11.25"/>
<circle cx="2114.1" cy="1028.2" r="11.25"/>
<circle cx="2116.4" cy="1018.5" r="11.25"/>
<circle cx="2113.9" cy="1084.0" r="11.25"/>
<circle cx="2116.0" cy="1329.4" r="11.25"/>
<circle cx="2118.7" cy="1400.9" r="11.25"/>
<circle cx="2121.4" cy="1472.4" r="11.25"/>
<circle cx="2124.2" cy="1460.6" r="11.25"/>
<circle cx="2126.9" cy="1448.9" r="11.25"/>
<circle cx="2129.7" cy="1437.2" r="11.25"/>
<circle cx="2132.8" cy="1376.0" r="11.25"/>
<circle cx="2135.9" cy="1314.9" r="11.25"/>
<circle cx="2133.0" cy="1350.1" r="11.25"/>
<circle cx="2135.3" cy="1359.2" r="11.25"/>
<circle cx="2137.6" cy="1368.3" r="11.25"/>
<circle cx="2139.8" cy="1377.5" r="11.25"/>
<circle cx="2142.1" cy="1386.6" r="11.25"/>
<circle cx="2144.2" cy="1248.5" r="11.25"/>
<circle cx="2146.3" cy="1159.4" r="11.25"/>
<circle cx="2148.6" cy="1179.5" r="11.25"/>
<circle cx="2151.0" cy="1199.5" r="11.25"/>
<circle cx="2153.3" cy="1219.5" r="11.25"/>
<circle cx="2156.0" cy="1227.8" r="11.25"/>
<circle cx="2158.7" cy="1236.1" r="11.25"/>
<circle cx="2160.8" cy="1268.0" r="11.25"/>
<circle cx="2158.7" cy="1404.0" r="11.25"/>
<circle cx="2161.6" cy="1453.7" r="11.25"/>
<circle cx="2164.4" cy="1421.5" r="11.25"/>
<circle cx="2167.1" cy="1389.3" r="11.25"/>
<circle cx="2169.9" cy="1357.2" r="11.25"/>
<circle cx="2169.1" cy="1406.1" r="11.25"/>
<circle cx="2171.1" cy="1500.2" r="11.25"/>
<circle cx="2172.4" cy="1744.4" r="11.25"/>
<circle cx="2175.3" cy="1792.8" r="11.25"/>
<circle cx="2179.4" cy="1801.1" r="11.25"/>
<circle cx="2181.9" cy="1780.8" r="11.25"/>
<circle cx="2184.4" cy="1760.5" r="11.25"/>
<circle cx="2186.9" cy="1740.2" r="11.25"/>
<circle cx="2189.4" cy="1719.9" r="11.25"/>
<circle cx="2191.9" cy="1699.6" r="11.25"/>
<circle cx="2193.9" cy="1818.5" r="11.25"/>
<circle cx="2196.6" cy="1722.8" r="11.25"/>
<circle cx="2199.3" cy="1627.0" r="11.25"/>
<circle cx="2200.2" cy="1561.6" r="11.25"/>
<circle cx="2202.9" cy="1590.6" r="11.25"/>
<circle cx="2205.7" cy="1619.6" r="11.25"/>
<circle cx="2208.4" cy="1648.6" r="11.25"/>
<circle cx="2211.6" cy="1601.1" r="11.25"/>
<circle cx="2214.7" cy="1553.7" r="11.25"/>
<circle cx="2217.6" cy="1486.9" r="11.25"/>
<circle cx="2216.7" cy="1418.5" r="11.25"/>
<circle cx="2219.2" cy="1411.2" r="11.25"/>
<circle cx="2221.7" cy="1404.0" r="11.25"/>
<circle cx="2224.4" cy="1436.1" r="11.25"/>
<circle cx="2227.1" cy="1468.2" r="11.25"/>
<circle cx="2229.7" cy="1440.8" r="11.25"/>
<circle cx="2232.3" cy="1413.3" r="11.25"/>
<circle cx="2234.9" cy="1385.9" r="11.25"/>
<circle cx="2237.5" cy="1358.4" r="11.25"/>
<circle cx="2239.5" cy="1419.7" r="11.25"/>
<circle cx="2243.7" cy="1462.8" r="11.25"/>
<circle cx="2244.9" cy="1505.5" r="11.25"/>
<circle cx="2243.7" cy="1634.5" r="11.25"/>
<circle cx="2246.4" cy="1591.5" r="11.25"/>
<circle cx="2249.2" cy="1548.5" r="11.25"/>
<circle cx="2252.0" cy="1505.5" r="11.25"/>
<circle cx="2253.2" cy="1811.5" r="11.25"/>
<circle cx="2255.7" cy="1659.6" r="11.25"/>
<circle cx="2258.2" cy="1507.6" r="11.25"/>
<circle cx="2260.7" cy="1525.3" r="11.25"/>
<circle cx="2263.2" cy="1543.0" r="11.25"/>
<circle cx="2265.6" cy="1560.6" r="11.25"/>
<circle cx="2268.1" cy="1578.3" r="11.25"/>
<circle cx="2270.6" cy="1596.0" r="11.25"/>
<circle cx="2274.8" cy="1493.1" r="11.25"/>
<circle cx="2278.9" cy="1444.2" r="11.25"/>
<circle cx="2281.8" cy="1478.6" r="11.25"/>
<circle cx="2284.3" cy="1485.2" r="11.25"/>
<circle cx="2286.8" cy="1491.9" r="11.25"/>
<circle cx="2289.3" cy="1498.5" r="11.25"/>
<circle cx="2292.0" cy="1505.0" r="11.25"/>
<circle cx="2294.8" cy="1511.5" r="11.25"/>
<circle cx="2297.6" cy="1518.0" r="11.25"/>
<circle cx="2299.6" cy="1556.6" r="11.25"/>
<circle cx="2303.8" cy="1698.8" r="11.25"/>
<circle cx="2305.9" cy="1760.9" r="11.25"/>
<circle cx="2310.0" cy="1805.3" r="11.25"/>
<circle cx="2312.9" cy="1905.6" r="11.25"/>
<circle cx="2315.1" cy="1870.8" r="11.25"/>
<circle cx="2317.3" cy="1836.0" r="11.25"/>
<circle cx="2319.5" cy="1801.1" r="11.25"/>
<circle cx="2322.0" cy="1786.6" r="11.25"/>
<circle cx="2324.5" cy="1772.1" r="11.25"/>
<circle cx="2327.8" cy="1676.8" r="11.25"/>
<circle cx="2326.6" cy="1651.1" r="11.25"/>
<circle cx="2329.1" cy="1529.6" r="11.25"/>
<circle cx="2331.6" cy="1408.1" r="11.25"/>
<circle cx="2332.8" cy="1304.5" r="11.25"/>
<circle cx="2336.9" cy="1122.1" r="11.25"/>
<circle cx="2338.2" cy="1019.7" r="11.25"/>
<circle cx="2341.1" cy="1071.1" r="11.25"/>
<circle cx="2343.2" cy="1126.3" r="11.25"/>
<circle cx="2346.3" cy="1146.0" r="11.25"/>
<circle cx="2349.4" cy="1165.6" r="11.25"/>
<circle cx="2351.5" cy="1117.2" r="11.25"/>
<circle cx="2355.6" cy="1267.2" r="11.25"/>
<circle cx="2358.3" cy="1252.3" r="11.25"/>
<circle cx="2361.0" cy="1237.4" r="11.25"/>
<circle cx="2363.1" cy="1084.0" r="11.25"/>
<circle cx="2367.2" cy="1375.8" r="11.25"/>
<circle cx="2368.0" cy="1444.6" r="11.25"/>
<circle cx="2370.6" cy="1435.0" r="11.25"/>
<circle cx="2373.2" cy="1425.3" r="11.25"/>
<circle cx="2375.8" cy="1415.7" r="11.25"/>
<circle cx="2378.4" cy="1406.1" r="11.25"/>
<circle cx="2382.5" cy="1453.7" r="11.25"/>
<circle cx="2386.7" cy="1742.3" r="11.25"/>
<circle cx="2385.9" cy="1772.1" r="11.25"/>
<circle cx="2388.2" cy="1720.3" r="11.25"/>
<circle cx="2390.6" cy="1668.5" r="11.25"/>
<circle cx="2392.9" cy="1616.7" r="11.25"/>
<circle cx="2396.0" cy="1628.1" r="11.25"/>
<circle cx="2399.1" cy="1639.5" r="11.25"/>
<circle cx="2402.2" cy="1668.5" r="11.25"/>
<circle cx="2405.3" cy="1697.5" r="11.25"/>
<circle cx="2408.7" cy="1719.1" r="11.25"/>
<circle cx="2410.3" cy="1562.8" r="11.25"/>
<circle cx="2413.6" cy="1246.5" r="11.25"/>
<circle cx="2412.4" cy="1101.4" r="11.25"/>
<circle cx="2415.1" cy="1073.0" r="11.25"/>
<circle cx="2417.8" cy="1044.6" r="11.25"/>
<circle cx="2419.0" cy="1115.9" r="11.25"/>
<circle cx="2421.5" cy="1141.4" r="11.25"/>
<circle cx="2424.0" cy="1166.9" r="11.25"/>
<circle cx="2426.3" cy="1157.8" r="11.25"/>
<circle cx="2428.5" cy="1148.7" r="11.25"/>
<circle cx="2430.8" cy="1139.5" r="11.25"/>
<circle cx="2433.1" cy="1130.4" r="11.25"/>
<circle cx="2436.4" cy="1086.9" r="11.25"/>
<circle cx="2438.5" cy="1173.9" r="11.25"/>
<circle cx="2442.6" cy="1430.9" r="11.25"/>
<circle cx="2446.0" cy="1533.3" r="11.25"/>
<circle cx="2448.3" cy="1466.0" r="11.25"/>
<circle cx="2450.7" cy="1398.7" r="11.25"/>
<circle cx="2453.0" cy="1331.5" r="11.25"/>
<circle cx="2455.8" cy="1348.7" r="11.25"/>
<circle cx="2458.5" cy="1366.0" r="11.25"/>
<circle cx="2461.3" cy="1383.3" r="11.25"/>
<circle cx="2463.8" cy="1371.5" r="11.25"/>
<circle cx="2466.3" cy="1359.8" r="11.25"/>
<circle cx="2468.8" cy="1348.0" r="11.25"/>
<circle cx="2471.7" cy="1497.3" r="11.25"/>
<circle cx="2474.8" cy="1510.7" r="11.25"/>
<circle cx="2477.9" cy="1524.2" r="11.25"/>
<circle cx="2480.5" cy="1520.1" r="11.25"/>
<circle cx="2483.1" cy="1515.9" r="11.25"/>
<circle cx="2485.6" cy="1511.8" r="11.25"/>
<circle cx="2488.2" cy="1507.6" r="11.25"/>
<circle cx="2490.3" cy="1581.5" r="11.25"/>
<circle cx="2493.2" cy="1616.7" r="11.25"/>
<circle cx="2495.3" cy="1364.6" r="11.25"/>
<circle cx="2498.0" cy="1320.1" r="11.25"/>
<circle cx="2500.7" cy="1275.5" r="11.25"/>
<circle cx="2498.6" cy="1243.6" r="11.25"/>
<circle cx="2501.7" cy="1098.3" r="11.25"/>
<circle cx="2504.8" cy="953.0" r="11.25"/>
<circle cx="2503.6" cy="878.3" r="11.25"/>
<circle cx="2506.9" cy="807.9" r="11.25"/>
<circle cx="2510.0" cy="816.2" r="11.25"/>
<circle cx="2513.1" cy="824.5" r="11.25"/>
<circle cx="2515.8" cy="785.5" r="11.25"/>
<circle cx="2518.5" cy="746.5" r="11.25"/>
<circle cx="2520.6" cy="606.0" r="11.25"/>
<circle cx="2523.5" cy="764.4" r="11.25"/>
<circle cx="2526.4" cy="822.4" r="11.25"/>
<circle cx="2527.6" cy="966.7" r="11.25"/>
<circle cx="2531.8" cy="1119.2" r="11.25"/>
<circle cx="2530.5" cy="1153.2" r="11.25"/>
<circle cx="2533.6" cy="1176.0" r="11.25"/>
<circle cx="2536.7" cy="1198.8" r="11.25"/>
<circle cx="2534.7" cy="1252.7" r="11.25"/>
<circle cx="2537.6" cy="1241.6" r="11.25"/>
<circle cx="2540.5" cy="1230.6" r="11.25"/>
<circle cx="2543.4" cy="1219.5" r="11.25"/>
<circle cx="2544.2" cy="1308.7" r="11.25"/>
<circle cx="2547.0" cy="1287.7" r="11.25"/>
<circle cx="2549.7" cy="1266.6" r="11.25"/>
<circle cx="2552.5" cy="1245.6" r="11.25"/>
<circle cx="2554.6" cy="1406.1" r="11.25"/>
<circle cx="2550.4" cy="1502.6" r="11.25"/>
<circle cx="2554.6" cy="1589.7" r="11.25"/>
<circle cx="2557.9" cy="1692.1" r="11.25"/>
<circle cx="2560.2" cy="1676.6" r="11.25"/>
<circle cx="2562.6" cy="1661.2" r="11.25"/>
<circle cx="2564.9" cy="1645.7" r="11.25"/>
<circle cx="2567.4" cy="1642.9" r="11.25"/>
<circle cx="2569.9" cy="1640.2" r="11.25"/>
<circle cx="2572.4" cy="1637.4" r="11.25"/>
<circle cx="2574.9" cy="1518.6" r="11.25"/>
<circle cx="2577.4" cy="1399.8" r="11.25"/>
<circle cx="2580.3" cy="1863.3" r="11.25"/>
<circle cx="2581.5" cy="1555.8" r="11.25"/>
<circle cx="2584.8" cy="1118.0" r="11.25"/>
<circle cx="2583.6" cy="1269.3" r="11.25"/>
<circle cx="2586.5" cy="1321.1" r="11.25"/>
<circle cx="2589.1" cy="1295.7" r="11.25"/>
<circle cx="2591.7" cy="1270.3" r="11.25"/>
<circle cx="2594.2" cy="1244.9" r="11.25"/>
<circle cx="2596.8" cy="1219.5" r="11.25"/>
<circle cx="2599.5" cy="1281.7" r="11.25"/>
<circle cx="2602.2" cy="1343.9" r="11.25"/>
<circle cx="2605.5" cy="1386.2" r="11.25"/>
<circle cx="2608.4" cy="1236.1" r="11.25"/>
<circle cx="2610.5" cy="997.8" r="11.25"/>
<circle cx="2614.7" cy="1182.2" r="11.25"/>
<circle cx="2613.4" cy="1319.0" r="11.25"/>
<circle cx="2616.5" cy="1228.9" r="11.25"/>
<circle cx="2619.6" cy="1138.7" r="11.25"/>
<circle cx="2623.8" cy="1047.5" r="11.25"/>
<circle cx="2626.5" cy="986.4" r="11.25"/>
<circle cx="2629.2" cy="925.2" r="11.25"/>
<circle cx="2630.4" cy="793.4" r="11.25"/>
<circle cx="2632.9" cy="891.4" r="11.25"/>
<circle cx="2635.4" cy="989.5" r="11.25"/>
<circle cx="2637.5" cy="1254.8" r="11.25"/>
<circle cx="2639.5" cy="754.0" r="11.25"/>
<circle cx="2642.8" cy="791.3" r="11.25"/>
<circle cx="2645.2" cy="807.9" r="11.25"/>
<circle cx="2647.5" cy="824.5" r="11.25"/>
<circle cx="2649.9" cy="841.0" r="11.25"/>
<circle cx="2652.0" cy="925.2" r="11.25"/>
<circle cx="2656.1" cy="1040.1" r="11.25"/>
<circle cx="2658.9" cy="969.3" r="11.25"/>
<circle cx="2661.6" cy="898.5" r="11.25"/>
<circle cx="2664.4" cy="827.8" r="11.25"/>
<circle cx="2666.5" cy="1281.7" r="11.25"/>
<circle cx="2670.6" cy="1287.9" r="11.25"/>
<circle cx="2673.0" cy="1276.7" r="11.25"/>
<circle cx="2675.4" cy="1265.5" r="11.25"/>
<circle cx="2677.8" cy="1254.4" r="11.25"/>
<circle cx="2680.2" cy="1243.2" r="11.25"/>
<circle cx="2682.6" cy="1296.6" r="11.25"/>
<circle cx="2685.1" cy="1350.1" r="11.25"/>
<circle cx="2687.5" cy="1296.2" r="11.25"/>
<circle cx="2689.8" cy="1242.3" r="11.25"/>
<circle cx="2692.2" cy="1188.4" r="11.25"/>
<circle cx="2693.4" cy="1372.9" r="11.25"/>
<circle cx="2695.5" cy="1470.3" r="11.25"/>
<circle cx="2692.6" cy="1498.5" r="11.25"/>
<circle cx="2694.8" cy="1488.7" r="11.25"/>
<circle cx="2697.1" cy="1478.9" r="11.25"/>
<circle cx="2699.3" cy="1469.2" r="11.25"/>
<circle cx="2701.5" cy="1459.4" r="11.25"/>
<circle cx="2703.8" cy="1449.6" r="11.25"/>
<circle cx="2706.4" cy="1412.3" r="11.25"/>
<circle cx="2709.0" cy="1375.0" r="11.25"/>
<circle cx="2711.6" cy="1337.7" r="11.25"/>
<circle cx="2714.1" cy="1300.4" r="11.25"/>
<circle cx="2716.2" cy="1462.0" r="11.25"/>
<circle cx="2718.3" cy="1636.2" r="11.25"/>
<circle cx="2719.1" cy="1835.1" r="11.25"/>
<circle cx="2721.8" cy="1860.6" r="11.25"/>
<circle cx="2724.5" cy="1886.1" r="11.25"/>
<circle cx="2728.7" cy="1925.5" r="11.25"/>
<circle cx="2731.3" cy="1919.3" r="11.25"/>
<circle cx="2734.0" cy="1913.1" r="11.25"/>
<circle cx="2736.5" cy="2008.4" r="11.25"/>
<circle cx="2739.0" cy="2103.7" r="11.25"/>
<circle cx="2741.5" cy="2075.5" r="11.25"/>
<circle cx="2743.2" cy="2025.0" r="11.25"/>
<circle cx="2746.5" cy="1790.8" r="11.25"/>
<circle cx="2749.4" cy="1571.1" r="11.25"/>
<circle cx="2751.5" cy="1426.8" r="11.25"/>
<circle cx="2752.7" cy="1400.7" r="11.25"/>
<circle cx="2755.2" cy="1385.3" r="11.25"/>
<circle cx="2757.7" cy="1370.0" r="11.25"/>
<circle cx="2758.9" cy="1352.2" r="11.25"/>
<circle cx="2761.8" cy="1319.0" r="11.25"/>
<circle cx="2761.8" cy="1278.8" r="11.25"/>
<circle cx="2764.9" cy="1228.4" r="11.25"/>
<circle cx="2768.0" cy="1178.1" r="11.25"/>
<circle cx="2772.2" cy="1186.4" r="11.25"/>
<circle cx="2776.3" cy="1305.8" r="11.25"/>
<circle cx="2776.3" cy="1458.7" r="11.25"/>
<circle cx="2778.4" cy="1575.2" r="11.25"/>
<circle cx="2782.5" cy="1617.5" r="11.25"/>
<circle cx="2785.1" cy="1601.8" r="11.25"/>
<circle cx="2787.7" cy="1586.0" r="11.25"/>
<circle cx="2790.3" cy="1570.3" r="11.25"/>
<circle cx="2792.9" cy="1554.5" r="11.25"/>
<circle cx="2795.0" cy="1637.4" r="11.25"/>
<circle cx="2799.1" cy="1122.1" r="11.25"/>
<circle cx="2801.2" cy="1005.2" r="11.25"/>
<circle cx="2804.5" cy="675.2" r="11.25"/>
<circle cx="2807.4" cy="610.2" r="11.25"/>
<circle cx="2809.5" cy="560.0" r="11.25"/>
<circle cx="2812.6" cy="553.8" r="11.25"/>
<circle cx="2815.7" cy="547.6" r="11.25"/>
<circle cx="2817.8" cy="526.0" r="11.25"/>
<circle cx="2821.1" cy="639.2" r="11.25"/>
<circle cx="2823.2" cy="662.0" r="11.25"/>
<circle cx="2825.2" cy="694.7" r="11.25"/>
<circle cx="2827.3" cy="845.2" r="11.25"/>
<circle cx="2829.4" cy="875.4" r="11.25"/>
<circle cx="2832.3" cy="1182.2" r="11.25"/>
<circle cx="2829.0" cy="1258.9" r="11.25"/>
<circle cx="2831.7" cy="1275.5" r="11.25"/>
<circle cx="2834.4" cy="1292.1" r="11.25"/>
<circle cx="2837.5" cy="1271.3" r="11.25"/>
<circle cx="2840.6" cy="1250.6" r="11.25"/>
<circle cx="2842.6" cy="1324.4" r="11.25"/>
<circle cx="2845.1" cy="1338.9" r="11.25"/>
<circle cx="2847.6" cy="1353.4" r="11.25"/>
<circle cx="2850.1" cy="1367.9" r="11.25"/>
<circle cx="2848.9" cy="1253.9" r="11.25"/>
<circle cx="2853.0" cy="1198.8" r="11.25"/>
<circle cx="2848.9" cy="1132.5" r="11.25"/>
<circle cx="2852.0" cy="1123.2" r="11.25"/>
<circle cx="2855.1" cy="1113.8" r="11.25"/>
<circle cx="2857.8" cy="1103.1" r="11.25"/>
<circle cx="2860.6" cy="1092.3" r="11.25"/>
<circle cx="2863.4" cy="1081.5" r="11.25"/>
<circle cx="2866.5" cy="1103.9" r="11.25"/>
<circle cx="2869.6" cy="1126.3" r="11.25"/>
<circle cx="2873.7" cy="1152.4" r="11.25"/>
<circle cx="2877.0" cy="1217.5" r="11.25"/>
<circle cx="2879.1" cy="1428.9" r="11.25"/>
<circle cx="2880.8" cy="1568.2" r="11.25"/>
<circle cx="2884.1" cy="1731.5" r="11.25"/>
<circle cx="2884.1" cy="1886.1" r="11.25"/>
<circle cx="2888.2" cy="1813.6" r="11.25"/>
<circle cx="2890.7" cy="1827.0" r="11.25"/>
<circle cx="2893.2" cy="1840.4" r="11.25"/>
<circle cx="2895.7" cy="1853.8" r="11.25"/>
<circle cx="2898.6" cy="1775.0" r="11.25"/>
<circle cx="2901.5" cy="1705.8" r="11.25"/>
<circle cx="2904.8" cy="1433.0" r="11.25"/>
<circle cx="2908.1" cy="1581.5" r="11.25"/>
<circle cx="2910.4" cy="1551.3" r="11.25"/>
<circle cx="2912.6" cy="1521.2" r="11.25"/>
<circle cx="2914.8" cy="1491.1" r="11.25"/>
<circle cx="2917.1" cy="1461.0" r="11.25"/>
<circle cx="2919.3" cy="1430.9" r="11.25"/>
<circle cx="2916.0" cy="1631.2" r="11.25"/>
<circle cx="2918.3" cy="1607.6" r="11.25"/>
<circle cx="2920.5" cy="1584.0" r="11.25"/>
<circle cx="2922.8" cy="1560.5" r="11.25"/>
<circle cx="2925.0" cy="1536.9" r="11.25"/>
<circle cx="2927.3" cy="1513.3" r="11.25"/>
<circle cx="2929.5" cy="1489.7" r="11.25"/>
<circle cx="2931.8" cy="1466.2" r="11.25"/>
<circle cx="2933.8" cy="1422.6" r="11.25"/>
<circle cx="2935.9" cy="1070.3" r="11.25"/>
<circle cx="2935.9" cy="1030.9" r="11.25"/>
<circle cx="2939.2" cy="910.7" r="11.25"/>
<circle cx="2941.5" cy="984.9" r="11.25"/>
<circle cx="2943.8" cy="1059.1" r="11.25"/>
<circle cx="2946.1" cy="1133.3" r="11.25"/>
<circle cx="2948.3" cy="1207.5" r="11.25"/>
<circle cx="2950.6" cy="1132.0" r="11.25"/>
<circle cx="2952.9" cy="1056.4" r="11.25"/>
<circle cx="2955.2" cy="980.9" r="11.25"/>
<circle cx="2957.5" cy="905.3" r="11.25"/>
<circle cx="2960.8" cy="952.2" r="11.25"/>
<circle cx="2958.7" cy="1060.8" r="11.25"/>
<circle cx="2961.4" cy="1278.4" r="11.25"/>
<circle cx="2964.1" cy="1496.0" r="11.25"/>
<circle cx="2967.2" cy="1394.0" r="11.25"/>
<circle cx="2970.3" cy="1292.1" r="11.25"/>
<circle cx="2972.8" cy="1319.0" r="11.25"/>
<circle cx="2975.3" cy="1346.0" r="11.25"/>
<circle cx="2977.6" cy="1318.3" r="11.25"/>
<circle cx="2980.0" cy="1290.7" r="11.25"/>
<circle cx="2982.3" cy="1263.1" r="11.25"/>
<circle cx="2985.6" cy="1442.1" r="11.25"/>
<circle cx="2987.9" cy="1431.0" r="11.25"/>
<circle cx="2990.2" cy="1419.9" r="11.25"/>
<circle cx="2992.5" cy="1408.9" r="11.25"/>
<circle cx="2994.8" cy="1397.8" r="11.25"/>
<circle cx="2991.9" cy="1304.5" r="11.25"/>
<circle cx="2993.9" cy="1185.5" r="11.25"/>
<circle cx="2996.8" cy="1122.1" r="11.25"/>
<circle cx="2999.9" cy="1113.8" r="11.25"/>
<circle cx="3003.1" cy="1105.5" r="11.25"/>
<circle cx="3005.8" cy="1182.2" r="11.25"/>
<circle cx="3008.4" cy="1258.9" r="11.25"/>
<circle cx="3012.6" cy="1277.6" r="11.25"/>
<circle cx="3016.7" cy="1198.8" r="11.25"/>
<circle cx="3018.8" cy="927.3" r="11.25"/>
<circle cx="3020.9" cy="953.4" r="11.25"/>
<circle cx="3023.0" cy="1321.1" r="11.25"/>
<circle cx="3025.6" cy="1332.5" r="11.25"/>
<circle cx="3028.3" cy="1343.9" r="11.25"/>
<circle cx="3030.7" cy="1318.6" r="11.25"/>
<circle cx="3033.0" cy="1293.3" r="11.25"/>
<circle cx="3035.4" cy="1268.0" r="11.25"/>
<circle cx="3038.5" cy="1296.6" r="11.25"/>
<circle cx="3041.6" cy="1325.2" r="11.25"/>
<circle cx="3044.4" cy="1328.7" r="11.25"/>
<circle cx="3047.1" cy="1332.1" r="11.25"/>
<circle cx="3049.9" cy="1335.6" r="11.25"/>
<circle cx="3045.8" cy="1391.6" r="11.25"/>
<circle cx="3041.6" cy="1531.7" r="11.25"/>
<circle cx="3044.4" cy="1432.2" r="11.25"/>
<circle cx="3049.9" cy="1233.2" r="11.25"/>
<circle cx="3054.0" cy="1160.3" r="11.25"/>
<circle cx="3058.2" cy="1070.3" r="11.25"/>
<circle cx="3061.3" cy="1087.9" r="11.25"/>
<circle cx="3064.4" cy="1105.5" r="11.25"/>
<circle cx="3066.5" cy="1074.5" r="11.25"/>
<circle cx="3069.4" cy="865.1" r="11.25"/>
<circle cx="3071.5" cy="1174.8" r="11.25"/>
<circle cx="3073.5" cy="1267.2" r="11.25"/>
<circle cx="3075.6" cy="1400.7" r="11.25"/>
<circle cx="3078.9" cy="1479.4" r="11.25"/>
<circle cx="3083.1" cy="1392.4" r="11.25"/>
<circle cx="3086.2" cy="1442.7" r="11.25"/>
<circle cx="3089.3" cy="1493.1" r="11.25"/>
<circle cx="3088.0" cy="1584.8" r="11.25"/>
<circle cx="3090.1" cy="1608.4" r="11.25"/>
<circle cx="3093.2" cy="1643.6" r="11.25"/>
<circle cx="3096.3" cy="1678.9" r="11.25"/>
<circle cx="3099.6" cy="1641.6" r="11.25"/>
<circle cx="3101.7" cy="1552.4" r="11.25"/>
<circle cx="3106.7" cy="1550.4" r="11.25"/>
<circle cx="3108.8" cy="1672.6" r="11.25"/>
<circle cx="3107.9" cy="1739.0" r="11.25"/>
<circle cx="3111.0" cy="1764.9" r="11.25"/>
<circle cx="3114.1" cy="1790.8" r="11.25"/>
<circle cx="3117.3" cy="1781.5" r="11.25"/>
<circle cx="3120.4" cy="1772.1" r="11.25"/>
<circle cx="3122.4" cy="1685.1" r="11.25"/>
<circle cx="3125.8" cy="1738.1" r="11.25"/>
<circle cx="3127.8" cy="1755.5" r="11.25"/>
<circle cx="3128.7" cy="1622.1" r="11.25"/>
<circle cx="3130.7" cy="1545.0" r="11.25"/>
<circle cx="3132.8" cy="1138.7" r="11.25"/>
<circle cx="3134.9" cy="897.5" r="11.25"/>
<circle cx="3136.9" cy="825.3" r="11.25"/>
<circle cx="3137.8" cy="778.9" r="11.25"/>
<circle cx="3141.9" cy="722.9" r="11.25"/>
<circle cx="3145.2" cy="693.9" r="11.25"/>
<circle cx="3149.4" cy="805.8" r="11.25"/>
<circle cx="3152.5" cy="583.6" r="11.25"/>
<circle cx="3155.6" cy="361.5" r="11.25"/>
<circle cx="3157.7" cy="392.5" r="11.25"/>
<circle cx="3161.8" cy="750.7" r="11.25"/>
<circle cx="3164.7" cy="961.3" r="11.25"/>
<circle cx="3168.0" cy="999.8" r="11.25"/>
<circle cx="3171.3" cy="1048.8" r="11.25"/>
<circle cx="3174.2" cy="1087.7" r="11.25"/>
<circle cx="3177.4" cy="1102.8" r="11.25"/>
<circle cx="3180.5" cy="1118.0" r="11.25"/>
<circle cx="3177.6" cy="1134.6" r="11.25"/>
<circle cx="3180.1" cy="1391.2" r="11.25"/>
<circle cx="3182.5" cy="1647.8" r="11.25"/>
<circle cx="3185.9" cy="1870.4" r="11.25"/>
<circle cx="3188.8" cy="1748.1" r="11.25"/>
<circle cx="3187.9" cy="1702.5" r="11.25"/>
<circle cx="3190.4" cy="1695.9" r="11.25"/>
<circle cx="3192.9" cy="1689.2" r="11.25"/>
<circle cx="3195.6" cy="1677.8" r="11.25"/>
<circle cx="3198.3" cy="1666.4" r="11.25"/>
<circle cx="3201.2" cy="1617.9" r="11.25"/>
<circle cx="3203.3" cy="1495.2" r="11.25"/>
<circle cx="3206.2" cy="1622.9" r="11.25"/>
<circle cx="3209.5" cy="1481.9" r="11.25"/>
<circle cx="3212.8" cy="1096.0" r="11.25"/>
<circle cx="3215.3" cy="1155.7" r="11.25"/>
<circle cx="3217.8" cy="1215.4" r="11.25"/>
<circle cx="3217.8" cy="1329.4" r="11.25"/>
<circle cx="3220.9" cy="1313.8" r="11.25"/>
<circle cx="3224.0" cy="1298.3" r="11.25"/>
<circle cx="3228.1" cy="1331.5" r="11.25"/>
<circle cx="3230.2" cy="1261.0" r="11.25"/>
<circle cx="3233.1" cy="1113.8" r="11.25"/>
<circle cx="3237.3" cy="898.3" r="11.25"/>
<circle cx="3236.4" cy="849.3" r="11.25"/>
<circle cx="3240.6" cy="782.2" r="11.25"/>
<circle cx="3241.8" cy="633.8" r="11.25"/>
<circle cx="3244.9" cy="609.9" r="11.25"/>
<circle cx="3248.0" cy="586.1" r="11.25"/>
<circle cx="3250.9" cy="607.7" r="11.25"/>
<circle cx="3255.1" cy="625.5" r="11.25"/>
<circle cx="3258.0" cy="642.9" r="11.25"/>
<circle cx="3259.2" cy="735.3" r="11.25"/>
<circle cx="3261.3" cy="804.6" r="11.25"/>
<circle cx="3264.6" cy="962.5" r="11.25"/>
<circle cx="3263.4" cy="1210.0" r="11.25"/>
<circle cx="3267.5" cy="1385.3" r="11.25"/>
<circle cx="3269.6" cy="1406.9" r="11.25"/>
<circle cx="3271.7" cy="1491.0" r="11.25"/>
<circle cx="3275.8" cy="1524.2" r="11.25"/>
<circle cx="3278.5" cy="1535.2" r="11.25"/>
<circle cx="3281.2" cy="1546.2" r="11.25"/>
<circle cx="3284.1" cy="1511.8" r="11.25"/>
<circle cx="3287.2" cy="1482.7" r="11.25"/>
<circle cx="3290.3" cy="1453.7" r="11.25"/>
<circle cx="3293.2" cy="1629.9" r="11.25"/>
<circle cx="3294.5" cy="1304.5" r="11.25"/>
<circle cx="3296.5" cy="1161.5" r="11.25"/>
<circle cx="3297.8" cy="1049.6" r="11.25"/>
<circle cx="3300.3" cy="1039.2" r="11.25"/>
<circle cx="3302.7" cy="1028.9" r="11.25"/>
<circle cx="3305.3" cy="1032.0" r="11.25"/>
<circle cx="3307.9" cy="1035.1" r="11.25"/>
<circle cx="3310.5" cy="1038.2" r="11.25"/>
<circle cx="3313.1" cy="1041.3" r="11.25"/>
<circle cx="3311.0" cy="1084.8" r="11.25"/>
<circle cx="3313.9" cy="1143.7" r="11.25"/>
<circle cx="3317.3" cy="988.2" r="11.25"/>
<circle cx="3319.3" cy="970.0" r="11.25"/>
<circle cx="3322.6" cy="523.1" r="11.25"/>
<circle cx="3324.7" cy="778.9" r="11.25"/>
<circle cx="3327.6" cy="801.7" r="11.25"/>
<circle cx="3330.7" cy="772.6" r="11.25"/>
<circle cx="3333.8" cy="743.6" r="11.25"/>
<circle cx="3336.9" cy="646.2" r="11.25"/>
<circle cx="3340.1" cy="548.8" r="11.25"/>
<circle cx="3343.0" cy="732.4" r="11.25"/>
<circle cx="3345.4" cy="423.6" r="11.25"/>
<circle cx="3347.9" cy="521.5" r="11.25"/>
<circle cx="3350.4" cy="619.3" r="11.25"/>
<circle cx="3351.7" cy="990.7" r="11.25"/>
<circle cx="3352.5" cy="1094.4" r="11.25"/>
<circle cx="3350.4" cy="1176.0" r="11.25"/>
<circle cx="3352.9" cy="1164.8" r="11.25"/>
<circle cx="3355.4" cy="1153.6" r="11.25"/>
<circle cx="3357.9" cy="1142.4" r="11.25"/>
<circle cx="3360.4" cy="1131.2" r="11.25"/>
<circle cx="3362.8" cy="1120.1" r="11.25"/>
<circle cx="3365.6" cy="1129.7" r="11.25"/>
<circle cx="3368.4" cy="1139.4" r="11.25"/>
<circle cx="3371.1" cy="1149.1" r="11.25"/>
<circle cx="3369.1" cy="1167.7" r="11.25"/>
<circle cx="3373.2" cy="1408.1" r="11.25"/>
<circle cx="3375.3" cy="1699.6" r="11.25"/>
<circle cx="3378.2" cy="1755.5" r="11.25"/>
<circle cx="3380.7" cy="1736.9" r="11.25"/>
<circle cx="3383.2" cy="1718.2" r="11.25"/>
<circle cx="3385.6" cy="1699.6" r="11.25"/>
<circle cx="3389.8" cy="1770.1" r="11.25"/>
<circle cx="3392.9" cy="1781.5" r="11.25"/>
<circle cx="3396.0" cy="1792.8" r="11.25"/>
<circle cx="3400.2" cy="1558.7" r="11.25"/>
<circle cx="3403.1" cy="1207.9" r="11.25"/>
<circle cx="3405.1" cy="1095.2" r="11.25"/>
<circle cx="3408.4" cy="941.8" r="11.25"/>
<circle cx="3410.5" cy="1055.8" r="11.25"/>
<circle cx="3414.7" cy="993.6" r="11.25"/>
<circle cx="3418.8" cy="1059.9" r="11.25"/>
<circle cx="3423.0" cy="915.7" r="11.25"/>
<circle cx="3425.4" cy="1005.0" r="11.25"/>
<circle cx="3427.9" cy="1094.2" r="11.25"/>
<circle cx="3430.4" cy="1183.5" r="11.25"/>
<circle cx="3432.5" cy="618.4" r="11.25"/>
<circle cx="3435.0" cy="820.5" r="11.25"/>
<circle cx="3437.5" cy="1022.6" r="11.25"/>
<circle cx="3439.5" cy="812.0" r="11.25"/>
<circle cx="3443.7" cy="861.8" r="11.25"/>
<circle cx="3446.0" cy="846.5" r="11.25"/>
<circle cx="3448.2" cy="831.3" r="11.25"/>
<circle cx="3450.5" cy="816.1" r="11.25"/>
<circle cx="3452.8" cy="800.8" r="11.25"/>
<circle cx="3454.9" cy="964.6" r="11.25"/>
<circle cx="3456.1" cy="1071.1" r="11.25"/>
<circle cx="3457.6" cy="1220.2" r="11.25"/>
<circle cx="3459.8" cy="1279.9" r="11.25"/>
<circle cx="3462.2" cy="1180.4" r="11.25"/>
<circle cx="3464.4" cy="1091.6" r="11.25"/>
<circle cx="3466.8" cy="1229.4" r="11.25"/>
<circle cx="3469.1" cy="1237.0" r="11.25"/>
<circle cx="3471.4" cy="1244.7" r="11.25"/>
<circle cx="3473.6" cy="1250.0" r="11.25"/>
<circle cx="3475.7" cy="1255.4" r="11.25"/>
<circle cx="3478.2" cy="1143.7" r="11.25"/>
<circle cx="3480.6" cy="1191.1" r="11.25"/>
<circle cx="3482.7" cy="999.8" r="11.25"/>
<circle cx="3485.2" cy="1157.4" r="11.25"/>
<circle cx="3487.3" cy="1351.2" r="11.25"/>
<circle cx="3489.8" cy="1247.7" r="11.25"/>
<circle cx="3491.9" cy="1310.5" r="11.25"/>
<circle cx="3494.1" cy="1393.1" r="11.25"/>
<circle cx="3496.5" cy="1366.2" r="11.25"/>
<circle cx="3498.8" cy="1357.2" r="11.25"/>
<circle cx="3501.1" cy="1348.1" r="11.25"/>
</g>
<polyline points="369.8,1804.0 376.5,1832.2 384.8,1664.4 386.8,1678.9 388.9,1747.3 393.9,1776.3 392.6,1886.1 396.0,1979.4 401.3,1993.9 406.3,1989.7 409.6,2103.7 413.8,2025.0 418.8,1802.0 422.9,1894.4 425.0,1870.8 534.0,1690.1 540.2,1749.3 543.1,1685.1 546.4,1646.9 549.3,1441.3 551.0,1277.6 553.5,1226.6 555.5,1391.6 558.0,1447.5 562.6,1298.3 567.6,1424.7 572.1,1258.9 575.4,1428.9 579.2,1693.4 584.6,1428.9 587.9,1304.5 587.0,1138.7 593.7,1118.0 601.1,1214.1 605.3,1066.2 608.6,1056.6 611.5,1010.2 615.6,1128.3 617.7,1406.1 621.0,1450.4 624.8,1372.1 630.2,1399.0 632.2,1625.0 635.1,1884.9 638.4,2120.3 639.7,1992.6 642.6,1919.3 650.1,1884.0 653.0,1836.4 657.1,1811.5 659.2,1574.0 660.0,1334.4 663.3,1238.2 665.4,1200.9 667.5,1272.2 672.8,1319.0 676.6,1433.8 684.0,1323.2 686.9,1484.8 689.4,1697.5 688.2,1739.0 691.5,1821.9 695.2,1858.3 704.8,1658.1 706.0,1722.4 709.7,1772.1 713.1,1871.6 720.1,1806.1 723.4,1838.4 726.3,1978.5 733.8,1942.9 737.9,1993.9 740.4,1969.0 743.3,2025.0 745.4,1813.6 748.3,1441.3 750.4,1316.9 751.2,1280.5 753.3,1162.7 756.6,1150.3 766.1,1305.8 773.2,1188.4 775.2,1223.7 774.4,1511.8 786.4,1591.8 795.1,1379.1 798.0,1213.3 800.9,1103.5 799.3,1072.4 800.9,1037.2 808.4,1001.9 815.9,919.0 820.0,931.5 822.9,1108.4 827.5,954.2 835.3,977.0 844.0,1157.4 850.7,725.0 856.1,1043.4 855.2,1188.4 857.3,1323.2 865.6,1346.0 873.9,1249.8 878.9,1341.0 880.1,1601.3 883.0,1714.9 887.2,1867.5 893.4,1811.5 898.8,1905.6 902.9,1631.2 904.6,1250.6 904.6,1108.4 912.4,1096.4 920.3,1176.0 927.8,1108.9 929.4,1217.5 933.6,1754.7 935.2,1451.7 936.9,1339.7 940.2,1489.8 943.1,1234.0 941.9,1142.8 947.3,1109.7 955.5,1138.7 959.7,1186.4 960.5,1207.1 959.3,1298.3 961.8,1422.6 968.4,1305.3 969.2,1493.1 978.3,1573.2 984.6,1441.3 985.8,1395.7 989.9,1254.8 994.1,1348.0 997.0,1406.1 1001.1,1467.0 1009.4,1375.0 1014.8,1290.0 1019.8,1443.4 1023.1,1531.7 1023.9,1217.5 1028.9,1161.5 1030.2,1059.9 1036.4,962.5 1039.7,1055.8 1043.4,1267.2 1050.1,995.7 1051.3,1157.4 1057.1,1224.9 1059.2,1271.3 1065.4,1332.7 1063.7,1370.8 1065.4,1464.1 1072.8,1465.3 1073.7,1525.4 1074.5,1712.8 1077.0,1962.8 1082.8,2066.4 1089.4,1993.9 1093.2,2071.8 1098.5,1985.6 1101.9,1327.3 1102.7,1138.7 1106.4,1106.8 1111.8,1138.7 1120.1,1242.3 1122.2,1049.6 1124.2,1016.4 1129.6,1550.4 1132.8,1226.6 1136.9,1141.6 1136.9,955.1 1136.1,727.0 1139.8,707.6 1144.8,555.9 1147.3,597.3 1150.2,455.5 1154.8,665.7 1156.4,728.3 1158.9,729.9 1158.9,1244.4 1161.8,1410.2 1164.7,1637.4 1163.9,1670.6 1172.2,1743.1 1173.4,1643.6 1179.6,1759.7 1184.6,1695.4 1184.6,1486.9 1187.1,1465.3 1188.8,1309.5 1195.8,1507.6 1202.0,1641.6 1206.2,1581.5 1211.6,1688.4 1210.7,1368.8 1213.6,1302.4 1217.8,1366.7 1222.7,1321.1 1229.0,1350.9 1231.5,1198.8 1234.4,1279.6 1231.0,1045.4 1235.6,1002.7 1239.3,660.7 1244.7,1072.4 1255.1,990.7 1259.2,1079.8 1258.0,1118.0 1260.1,1267.2 1264.2,1304.5 1266.7,1855.0 1269.2,1312.8 1273.7,1249.8 1284.1,1329.4 1289.1,1128.3 1291.6,1039.2 1294.5,1087.7 1295.3,1658.1 1298.6,1699.6 1301.9,1731.5 1312.3,1636.2 1315.2,1802.0 1317.3,1855.9 1320.6,1685.1 1321.4,1209.2 1321.4,1084.0 1325.5,1024.7 1333.8,1053.7 1340.9,1084.8 1344.2,1162.7 1347.1,1207.1 1349.6,1643.6 1353.3,1680.9 1358.7,1507.6 1361.2,1439.2 1367.0,1625.8 1369.1,1381.2 1372.0,1441.3 1379.4,1364.6 1384.4,1503.5 1394.8,1360.5 1400.2,1524.2 1401.0,1724.5 1404.3,1664.4 1410.4,1608.0 1412.7,1566.6 1418.7,1555.6 1421.7,1672.6 1428.3,1472.4 1429.2,1252.7 1435.4,1518.0 1437.5,1598.0 1441.6,1647.8 1445.8,1602.2 1450.7,1673.5 1458.2,1180.2 1460.3,912.8 1463.2,835.6 1469.8,931.5 1476.8,904.5 1478.9,999.8 1481.0,1034.2 1483.1,1306.6 1485.1,1691.3 1488.0,1918.0 1494.7,1790.8 1503.8,1861.2 1510.0,1654.0 1518.3,1937.9 1530.7,1788.7 1536.9,1927.6 1541.1,1848.8 1541.1,1583.5 1543.2,1344.7 1545.2,1185.1 1546.1,1046.7 1553.5,989.5 1559.7,1076.5 1561.8,929.4 1561.0,796.3 1568.0,904.5 1570.1,1089.0 1576.3,1022.6 1575.1,1142.8 1579.2,1187.6 1585.9,1153.2 1588.8,1217.5 1590.8,985.3 1595.8,1126.3 1597.9,869.2 1599.9,923.2 1609.5,950.1 1613.6,1001.1 1617.8,1126.3 1619.0,1281.7 1621.1,1392.8 1624.0,1765.9 1629.4,1893.2 1636.4,1743.1 1643.9,1890.3 1648.9,1772.1 1653.0,1569.8 1657.2,1370.8 1667.5,1515.9 1668.3,1391.6 1669.2,1273.4 1670.8,1220.4 1672.5,1023.5 1674.6,925.2 1677.9,1072.4 1679.9,887.5 1682.4,764.4 1684.5,845.2 1687.0,756.1 1693.2,756.9 1695.3,983.3 1705.6,814.9 1706.9,921.1 1707.7,1035.9 1709.8,1130.4 1713.1,1186.4 1717.3,1246.5 1727.6,1362.5 1727.6,1493.1 1735.1,1178.9 1742.1,1329.4 1748.3,1233.2 1751.7,1155.3 1753.3,1022.6 1759.9,943.9 1762.9,1080.9 1767.2,1032.8 1769.8,1003.0 1773.2,1076.5 1777.4,1186.4 1782.3,1330.2 1787.7,1271.3 1789.8,1120.1 1791.4,959.9 1796.0,976.5 1797.3,880.3 1801.3,815.0 1807.0,822.3 1808.6,783.2 1810.5,696.0 1813.4,931.5 1814.7,1011.5 1816.7,1292.1 1819.6,1378.3 1826.3,1304.5 1833.3,1343.9 1834.6,1445.4 1838.7,1583.5 1838.7,1695.4 1852.0,1792.0 1856.1,1724.5 1859.4,1607.2 1862.3,1513.8 1865.2,1347.2 1867.3,1198.8 1870.6,1028.9 1874.8,912.8 1876.8,863.0 1881.0,1043.4 1885.1,1153.2 1895.5,1016.4 1899.6,1331.5 1899.6,1480.7 1913.3,1337.7 1916.2,1475.3 1918.3,1245.6 1922.4,1063.3 1920.4,988.2 1922.4,686.8 1926.6,568.7 1928.7,776.8 1932.8,604.8 1935.7,642.1 1939.8,722.9 1943.2,511.5 1945.2,656.6 1946.5,742.4 1947.3,1023.5 1949.4,1125.4 1951.5,1344.7 1955.6,1442.1 1956.4,1571.1 1963.1,1554.5 1966.0,1581.5 1970.1,1718.2 1976.3,1678.9 1978.4,1734.8 1981.7,1654.0 1980.5,1886.9 1983.0,1763.8 1988.8,1755.5 1993.7,1709.9 1999.9,1818.5 2002.0,1619.6 2004.5,1426.0 2006.2,1095.2 2009.5,1015.2 2008.2,946.8 2015.7,918.2 2025.2,873.0 2030.2,1089.0 2032.3,1170.6 2034.4,1070.3 2036.4,914.0 2037.7,860.5 2040.6,746.5 2046.8,853.5 2055.1,635.9 2057.2,605.6 2058.4,780.9 2060.1,855.5 2061.3,1246.5 2063.4,1558.7 2065.4,1648.6 2066.7,1717.4 2073.7,1692.5 2077.9,1754.7 2082.0,1663.1 2080.8,1620.8 2084.1,1171.9 2087.4,988.7 2091.1,626.3 2093.2,368.5 2096.5,378.9 2099.8,398.8 2101.9,367.7 2104.8,317.9 2108.1,473.4 2109.8,632.5 2111.9,1038.0 2116.4,1018.5 2113.9,1084.0 2116.0,1329.4 2121.4,1472.4 2129.7,1437.2 2135.9,1314.9 2133.0,1350.1 2142.1,1386.6 2144.2,1248.5 2146.3,1159.4 2153.3,1219.5 2158.7,1236.1 2160.8,1268.0 2158.7,1404.0 2161.6,1453.7 2169.9,1357.2 2169.1,1406.1 2171.1,1500.2 2172.4,1744.4 2175.3,1792.8 2179.4,1801.1 2191.9,1699.6 2193.9,1818.5 2199.3,1627.0 2200.2,1561.6 2208.4,1648.6 2214.7,1553.7 2217.6,1486.9 2216.7,1418.5 2221.7,1404.0 2227.1,1468.2 2237.5,1358.4 2239.5,1419.7 2243.7,1462.8 2244.9,1505.5 2243.7,1634.5 2252.0,1505.5 2253.2,1811.5 2258.2,1507.6 2270.6,1596.0 2274.8,1493.1 2278.9,1444.2 2281.8,1478.6 2289.3,1498.5 2297.6,1518.0 2299.6,1556.6 2303.8,1698.8 2305.9,1760.9 2310.0,1805.3 2312.9,1905.6 2319.5,1801.1 2324.5,1772.1 2327.8,1676.8 2326.6,1651.1 2331.6,1408.1 2332.8,1304.5 2336.9,1122.1 2338.2,1019.7 2341.1,1071.1 2343.2,1126.3 2349.4,1165.6 2351.5,1117.2 2355.6,1267.2 2361.0,1237.4 2363.1,1084.0 2367.2,1375.8 2368.0,1444.6 2378.4,1406.1 2382.5,1453.7 2386.7,1742.3 2385.9,1772.1 2392.9,1616.7 2399.1,1639.5 2405.3,1697.5 2408.7,1719.1 2410.3,1562.8 2413.6,1246.5 2412.4,1101.4 2417.8,1044.6 2419.0,1115.9 2424.0,1166.9 2433.1,1130.4 2436.4,1086.9 2438.5,1173.9 2442.6,1430.9 2446.0,1533.3 2453.0,1331.5 2461.3,1383.3 2468.8,1348.0 2471.7,1497.3 2477.9,1524.2 2488.2,1507.6 2490.3,1581.5 2493.2,1616.7 2495.3,1364.6 2500.7,1275.5 2498.6,1243.6 2504.8,953.0 2503.6,878.3 2506.9,807.9 2513.1,824.5 2518.5,746.5 2520.6,606.0 2523.5,764.4 2526.4,822.4 2527.6,966.7 2531.8,1119.2 2530.5,1153.2 2536.7,1198.8 2534.7,1252.7 2543.4,1219.5 2544.2,1308.7 2552.5,1245.6 2554.6,1406.1 2550.4,1502.6 2554.6,1589.7 2557.9,1692.1 2564.9,1645.7 2572.4,1637.4 2577.4,1399.8 2580.3,1863.3 2581.5,1555.8 2584.8,1118.0 2583.6,1269.3 2586.5,1321.1 2596.8,1219.5 2602.2,1343.9 2605.5,1386.2 2608.4,1236.1 2610.5,997.8 2614.7,1182.2 2613.4,1319.0 2619.6,1138.7 2623.8,1047.5 2629.2,925.2 2630.4,793.4 2635.4,989.5 2637.5,1254.8 2639.5,754.0 2642.8,791.3 2649.9,841.0 2652.0,925.2 2656.1,1040.1 2664.4,827.8 2666.5,1281.7 2670.6,1287.9 2680.2,1243.2 2685.1,1350.1 2692.2,1188.4 2693.4,1372.9 2695.5,1470.3 2692.6,1498.5 2703.8,1449.6 2714.1,1300.4 2716.2,1462.0 2718.3,1636.2 2719.1,1835.1 2724.5,1886.1 2728.7,1925.5 2734.0,1913.1 2739.0,2103.7 2741.5,2075.5 2743.2,2025.0 2746.5,1790.8 2749.4,1571.1 2751.5,1426.8 2752.7,1400.7 2757.7,1370.0 2758.9,1352.2 2761.8,1319.0 2761.8,1278.8 2768.0,1178.1 2772.2,1186.4 2776.3,1305.8 2776.3,1458.7 2778.4,1575.2 2782.5,1617.5 2792.9,1554.5 2795.0,1637.4 2799.1,1122.1 2801.2,1005.2 2804.5,675.2 2807.4,610.2 2809.5,560.0 2815.7,547.6 2817.8,526.0 2821.1,639.2 2823.2,662.0 2825.2,694.7 2827.3,845.2 2829.4,875.4 2832.3,1182.2 2829.0,1258.9 2834.4,1292.1 2840.6,1250.6 2842.6,1324.4 2850.1,1367.9 2848.9,1253.9 2853.0,1198.8 2848.9,1132.5 2855.1,1113.8 2863.4,1081.5 2869.6,1126.3 2873.7,1152.4 2877.0,1217.5 2879.1,1428.9 2880.8,1568.2 2884.1,1731.5 2884.1,1886.1 2888.2,1813.6 2895.7,1853.8 2898.6,1775.0 2901.5,1705.8 2904.8,1433.0 2908.1,1581.5 2919.3,1430.9 2916.0,1631.2 2931.8,1466.2 2933.8,1422.6 2935.9,1070.3 2935.9,1030.9 2939.2,910.7 2948.3,1207.5 2957.5,905.3 2960.8,952.2 2958.7,1060.8 2964.1,1496.0 2970.3,1292.1 2975.3,1346.0 2982.3,1263.1 2985.6,1442.1 2994.8,1397.8 2991.9,1304.5 2993.9,1185.5 2996.8,1122.1 3003.1,1105.5 3008.4,1258.9 3012.6,1277.6 3016.7,1198.8 3018.8,927.3 3020.9,953.4 3023.0,1321.1 3028.3,1343.9 3035.4,1268.0 3041.6,1325.2 3049.9,1335.6 3045.8,1391.6 3041.6,1531.7 3049.9,1233.2 3054.0,1160.3 3058.2,1070.3 3064.4,1105.5 3066.5,1074.5 3069.4,865.1 3071.5,1174.8 3073.5,1267.2 3075.6,1400.7 3078.9,1479.4 3083.1,1392.4 3089.3,1493.1 3088.0,1584.8 3090.1,1608.4 3096.3,1678.9 3099.6,1641.6 3101.7,1552.4 3106.7,1550.4 3108.8,1672.6 3107.9,1739.0 3114.1,1790.8 3120.4,1772.1 3122.4,1685.1 3125.8,1738.1 3127.8,1755.5 3128.7,1622.1 3130.7,1545.0 3132.8,1138.7 3134.9,897.5 3136.9,825.3 3137.8,778.9 3141.9,722.9 3145.2,693.9 3149.4,805.8 3155.6,361.5 3157.7,392.5 3161.8,750.7 3164.7,961.3 3168.0,999.8 3171.3,1048.8 3174.2,1087.7 3180.5,1118.0 3177.6,1134.6 3182.5,1647.8 3185.9,1870.4 3188.8,1748.1 3187.9,1702.5 3192.9,1689.2 3198.3,1666.4 3201.2,1617.9 3203.3,1495.2 3206.2,1622.9 3209.5,1481.9 3212.8,1096.0 3217.8,1215.4 3217.8,1329.4 3224.0,1298.3 3228.1,1331.5 3230.2,1261.0 3233.1,1113.8 3237.3,898.3 3236.4,849.3 3240.6,782.2 3241.8,633.8 3248.0,586.1 3250.9,607.7 3255.1,625.5 3258.0,642.9 3259.2,735.3 3261.3,804.6 3264.6,962.5 3263.4,1210.0 3267.5,1385.3 3269.6,1406.9 3271.7,1491.0 3275.8,1524.2 3281.2,1546.2 3284.1,1511.8 3290.3,1453.7 3293.2,1629.9 3294.5,1304.5 3296.5,1161.5 3297.8,1049.6 3302.7,1028.9 3313.1,1041.3 3311.0,1084.8 3313.9,1143.7 3317.3,988.2 3319.3,970.0 3322.6,523.1 3324.7,778.9 3327.6,801.7 3333.8,743.6 3340.1,548.8 3343.0,732.4 3345.4,423.6 3350.4,619.3 3351.7,990.7 3352.5,1094.4 3350.4,1176.0 3362.8,1120.1 3371.1,1149.1 3369.1,1167.7 3373.2,1408.1 3375.3,1699.6 3378.2,1755.5 3385.6,1699.6 3389.8,1770.1 3396.0,1792.8 3400.2,1558.7 3403.1,1207.9 3405.1,1095.2 3408.4,941.8 3410.5,1055.8 3414.7,993.6 3418.8,1059.9 3423.0,915.7 3430.4,1183.5 3432.5,618.4 3437.5,1022.6 3439.5,812.0 3443.7,861.8 3452.8,800.8 3454.9,964.6 3456.1,1071.1 3457.6,1220.2 3459.8,1279.9 3462.2,1180.4 3464.4,1091.6 3466.8,1229.4 3471.4,1244.7 3475.7,1255.4 3478.2,1143.7 3480.6,1191.1 3482.7,999.8 3485.2,1157.4 3487.3,1351.2 3489.8,1247.7 3491.9,1310.5 3494.1,1393.1 3496.5,1366.2 3501.1,1348.1" fill="none" stroke="#0000ff" stroke-width="9.4" stroke-linejoin="round" stroke-linecap="round"/>
<g fill="none" stroke="#000" stroke-width="3.125" stroke-linecap="round" stroke-linejoin="round">
<rect x="246" y="246" width="3378" height="1948"/>
<path d="M592.0 2194H3333.2"/>
<path d="M592.0 2194v30"/>
<path d="M1140.2 2194v30"/>
<path d="M1688.5 2194v30"/>
<path d="M2236.7 2194v30"/>
<path d="M2785.0 2194v30"/>
<path d="M3333.2 2194v30"/>
<path d="M246 2172.1V367.8"/>
<path d="M246 2172.1h-30"/>
<path d="M246 1811.2h-30"/>
<path d="M246 1450.4h-30"/>
<path d="M246 1089.5h-30"/>
<path d="M246 728.7h-30"/>
<path d="M246 367.8h-30"/>
<rect x="246" y="246" width="785" height="120" fill="#fff"/>
</g>
<path d="M290 306H382" stroke="#0000ff" stroke-width="3.125" stroke-linecap="round"/>
<text x="429" y="324" font-family="'Liberation Sans',sans-serif" font-size="49.2" fill="#000">12-Month Moving Average</text>
<text x="592.0" y="2302" text-anchor="middle" font-family="'Liberation Sans',sans-serif" font-size="49.2">1920</text>
<text x="1140.2" y="2302" text-anchor="middle" font-family="'Liberation Sans',sans-serif" font-size="49.2">1940</text>
<text x="1688.5" y="2302" text-anchor="middle" font-family="'Liberation Sans',sans-serif" font-size="49.2">1960</text>
<text x="2236.7" y="2302" text-anchor="middle" font-family="'Liberation Sans',sans-serif" font-size="49.2">1980</text>
<text x="2785.0" y="2302" text-anchor="middle" font-family="'Liberation Sans',sans-serif" font-size="49.2">2000</text>
<text x="3333.2" y="2302" text-anchor="middle" font-family="'Liberation Sans',sans-serif" font-size="49.2">2020</text>
<text transform="translate(174 2172.1) rotate(-90)" text-anchor="middle" font-family="'Liberation Sans',sans-serif" font-size="49.2">1.0</text>
<text transform="translate(174 1811.2) rotate(-90)" text-anchor="middle" font-family="'Liberation Sans',sans-serif" font-size="49.2">1.5</text>
<text transform="translate(174 1450.4) rotate(-90)" text-anchor="middle" font-family="'Liberation Sans',sans-serif" font-size="49.2">2.0</text>
<text transform="translate(174 1089.5) rotate(-90)" text-anchor="middle" font-family="'Liberation Sans',sans-serif" font-size="49.2">2.5</text>
<text transform="translate(174 728.7) rotate(-90)" text-anchor="middle" font-family="'Liberation Sans',sans-serif" font-size="49.2">3.0</text>
<text transform="translate(174 367.8) rotate(-90)" text-anchor="middle" font-family="'Liberation Sans',sans-serif" font-size="49.2">3.5</text>
<text x="1935" y="2422" text-anchor="middle" font-family="'Liberation Sans',sans-serif" font-size="49.2">Date</text>
<text transform="translate(54 1220) rotate(-90)" text-anchor="middle" font-family="'Liberation Sans',sans-serif" font-size="49.2">Average Rainfall (mm)</text>
<text x="1935" y="108" text-anchor="middle" font-family="'Liberation Sans',sans-serif" font-weight="bold" font-size="59.7">Annual-Average Rainfall in</text>
<text x="1935" y="180" text-anchor="middle" font-family="'Liberation Sans',sans-serif" font-weight="bold" font-size="59.7">Vladivostok, Primorsky Krai, Russia</text>
</svg>
</body></html>
